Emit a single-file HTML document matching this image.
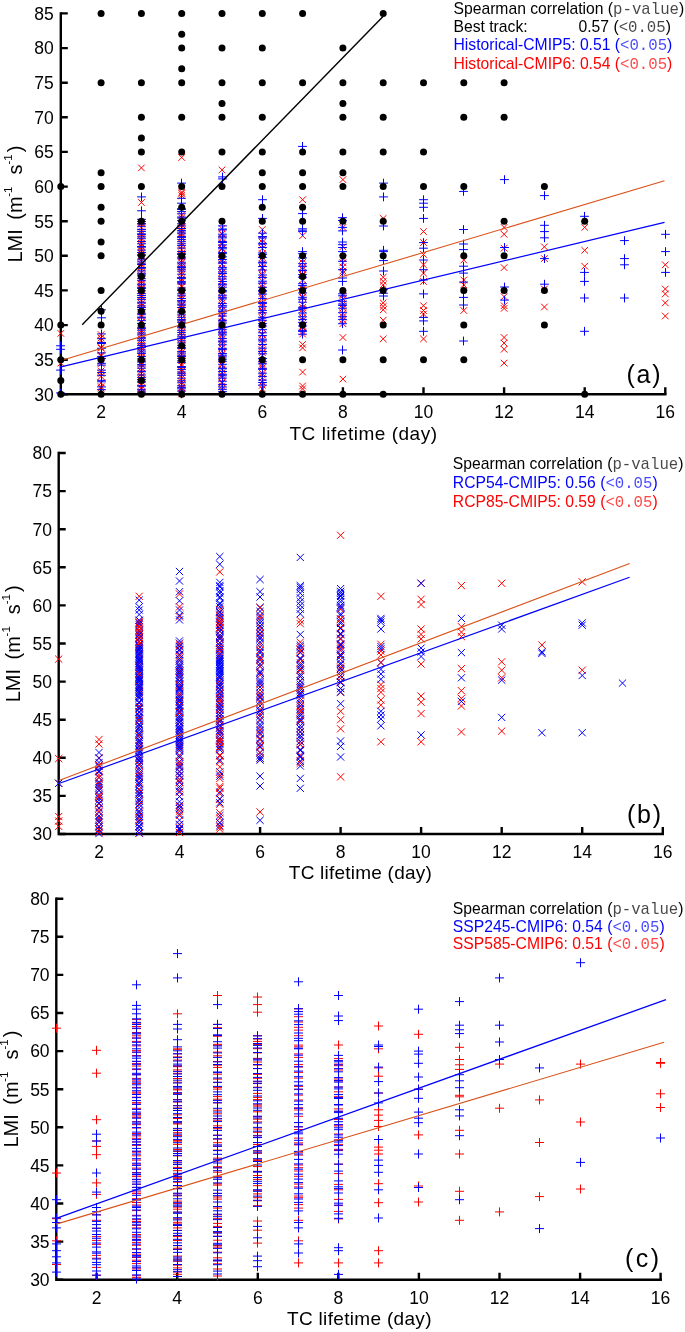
<!DOCTYPE html>
<html><head><meta charset="utf-8"><style>
html,body{margin:0;padding:0;background:#fff;}
svg{display:block;will-change:transform;}
text{font-family:"Liberation Sans",sans-serif;}
</style></head><body>
<svg width="685" height="1332" viewBox="0 0 685 1332">
<rect width="685" height="1332" fill="#fff"/>
<path d="M60.8 12.2V394.3H666.5" stroke="#000" stroke-width="2.4" fill="none" stroke-linejoin="miter"/><path d="M60.8 394.3h7M60.8 359.7h7M60.8 325.1h7M60.8 290.4h7M60.8 255.8h7M60.8 221.2h7M60.8 186.6h7M60.8 151.9h7M60.8 117.3h7M60.8 82.7h7M60.8 48.1h7M60.8 13.4h7M101.1 394.3v-7M181.7 394.3v-7M262.3 394.3v-7M342.9 394.3v-7M423.5 394.3v-7M504.1 394.3v-7M584.7 394.3v-7M665.3 394.3v-7" stroke="#000" stroke-width="2.4" fill="none"/><text x="53.8" y="400.6" text-anchor="end" font-size="17.5">30</text><text x="53.8" y="366.0" text-anchor="end" font-size="17.5">35</text><text x="53.8" y="331.4" text-anchor="end" font-size="17.5">40</text><text x="53.8" y="296.7" text-anchor="end" font-size="17.5">45</text><text x="53.8" y="262.1" text-anchor="end" font-size="17.5">50</text><text x="53.8" y="227.5" text-anchor="end" font-size="17.5">55</text><text x="53.8" y="192.9" text-anchor="end" font-size="17.5">60</text><text x="53.8" y="158.2" text-anchor="end" font-size="17.5">65</text><text x="53.8" y="123.6" text-anchor="end" font-size="17.5">70</text><text x="53.8" y="89.0" text-anchor="end" font-size="17.5">75</text><text x="53.8" y="54.4" text-anchor="end" font-size="17.5">80</text><text x="53.8" y="19.7" text-anchor="end" font-size="17.5">85</text><text x="101.1" y="418.3" text-anchor="middle" font-size="17.5">2</text><text x="181.7" y="418.3" text-anchor="middle" font-size="17.5">4</text><text x="262.3" y="418.3" text-anchor="middle" font-size="17.5">6</text><text x="342.9" y="418.3" text-anchor="middle" font-size="17.5">8</text><text x="423.5" y="418.3" text-anchor="middle" font-size="17.5">10</text><text x="504.1" y="418.3" text-anchor="middle" font-size="17.5">12</text><text x="584.7" y="418.3" text-anchor="middle" font-size="17.5">14</text><text x="665.3" y="418.3" text-anchor="middle" font-size="17.5">16</text><text x="289.5" y="439.8" font-size="19" textLength="147.5" lengthAdjust="spacing">TC lifetime (day)</text><g transform="translate(22.4,262.6) rotate(-90)" font-size="20"><text x="0" y="0">LMI</text><text x="42.9" y="0">(m</text><text x="65.9" y="-10" font-size="11.5">-1</text><text x="88.0" y="0">s</text><text x="98.1" y="-10" font-size="11.5">-1</text><text x="110.3" y="0">)</text></g><text x="660.5" y="383.0" text-anchor="end" font-size="25" textLength="34" lengthAdjust="spacing">(a)</text><path d="M57.5 359.8L64.1 366.4M57.5 366.4L64.1 359.8M57.5 330.1L64.1 336.7M57.5 336.7L64.1 330.1M97.8 384.8L104.4 391.4M97.8 391.4L104.4 384.8M97.8 383.3L104.4 389.9M97.8 389.9L104.4 383.3M97.8 379.5L104.4 386.1M97.8 386.1L104.4 379.5M97.8 373.1L104.4 379.7M97.8 379.7L104.4 373.1M97.8 370.2L104.4 376.8M97.8 376.8L104.4 370.2M97.8 367.6L104.4 374.2M97.8 374.2L104.4 367.6M97.8 360.3L104.4 366.9M97.8 366.9L104.4 360.3M97.8 357.6L104.4 364.2M97.8 364.2L104.4 357.6M97.8 353.0L104.4 359.6M97.8 359.6L104.4 353.0M97.8 351.9L104.4 358.5M97.8 358.5L104.4 351.9M97.8 344.9L104.4 351.5M97.8 351.5L104.4 344.9M97.8 344.1L104.4 350.7M97.8 350.7L104.4 344.1M97.8 337.1L104.4 343.7M97.8 343.7L104.4 337.1M97.8 334.7L104.4 341.3M97.8 341.3L104.4 334.7M97.8 331.3L104.4 337.9M97.8 337.9L104.4 331.3M138.1 164.6L144.7 171.2M138.1 171.2L144.7 164.6M138.1 199.2L144.7 205.8M138.1 205.8L144.7 199.2M138.1 389.4L144.7 396.0M138.1 396.0L144.7 389.4M138.1 385.4L144.7 392.0M138.1 392.0L144.7 385.4M138.1 384.5L144.7 391.1M138.1 391.1L144.7 384.5M138.1 382.0L144.7 388.6M138.1 388.6L144.7 382.0M138.1 377.9L144.7 384.5M138.1 384.5L144.7 377.9M138.1 375.9L144.7 382.5M138.1 382.5L144.7 375.9M138.1 373.4L144.7 380.0M138.1 380.0L144.7 373.4M138.1 370.3L144.7 376.9M138.1 376.9L144.7 370.3M138.1 367.8L144.7 374.4M138.1 374.4L144.7 367.8M138.1 364.4L144.7 371.0M138.1 371.0L144.7 364.4M138.1 361.2L144.7 367.8M138.1 367.8L144.7 361.2M138.1 358.4L144.7 365.0M138.1 365.0L144.7 358.4M138.1 354.2L144.7 360.8M138.1 360.8L144.7 354.2M138.1 352.7L144.7 359.3M138.1 359.3L144.7 352.7M138.1 349.2L144.7 355.8M138.1 355.8L144.7 349.2M138.1 347.2L144.7 353.8M138.1 353.8L144.7 347.2M138.1 343.8L144.7 350.4M138.1 350.4L144.7 343.8M138.1 341.9L144.7 348.5M138.1 348.5L144.7 341.9M138.1 338.3L144.7 344.9M138.1 344.9L144.7 338.3M138.1 336.1L144.7 342.7M138.1 342.7L144.7 336.1M138.1 331.2L144.7 337.8M138.1 337.8L144.7 331.2M138.1 328.8L144.7 335.4M138.1 335.4L144.7 328.8M138.1 327.0L144.7 333.6M138.1 333.6L144.7 327.0M138.1 323.3L144.7 329.9M138.1 329.9L144.7 323.3M138.1 319.1L144.7 325.7M138.1 325.7L144.7 319.1M138.1 318.6L144.7 325.2M138.1 325.2L144.7 318.6M138.1 313.6L144.7 320.2M138.1 320.2L144.7 313.6M138.1 311.8L144.7 318.4M138.1 318.4L144.7 311.8M138.1 308.8L144.7 315.4M138.1 315.4L144.7 308.8M138.1 304.9L144.7 311.5M138.1 311.5L144.7 304.9M138.1 303.3L144.7 309.9M138.1 309.9L144.7 303.3M138.1 300.1L144.7 306.7M138.1 306.7L144.7 300.1M138.1 296.7L144.7 303.3M138.1 303.3L144.7 296.7M138.1 292.9L144.7 299.5M138.1 299.5L144.7 292.9M138.1 291.9L144.7 298.5M138.1 298.5L144.7 291.9M138.1 287.6L144.7 294.2M138.1 294.2L144.7 287.6M138.1 285.1L144.7 291.7M138.1 291.7L144.7 285.1M138.1 282.4L144.7 289.0M138.1 289.0L144.7 282.4M138.1 280.2L144.7 286.8M138.1 286.8L144.7 280.2M138.1 277.5L144.7 284.1M138.1 284.1L144.7 277.5M138.1 275.4L144.7 282.0M138.1 282.0L144.7 275.4M138.1 272.3L144.7 278.9M138.1 278.9L144.7 272.3M138.1 269.6L144.7 276.2M138.1 276.2L144.7 269.6M138.1 264.8L144.7 271.4M138.1 271.4L144.7 264.8M138.1 263.3L144.7 269.9M138.1 269.9L144.7 263.3M138.1 260.7L144.7 267.3M138.1 267.3L144.7 260.7M138.1 258.0L144.7 264.6M138.1 264.6L144.7 258.0M138.1 253.0L144.7 259.6M138.1 259.6L144.7 253.0M138.1 250.0L144.7 256.6M138.1 256.6L144.7 250.0M138.1 247.7L144.7 254.3M138.1 254.3L144.7 247.7M138.1 245.9L144.7 252.5M138.1 252.5L144.7 245.9M138.1 243.1L144.7 249.7M138.1 249.7L144.7 243.1M138.1 240.1L144.7 246.7M138.1 246.7L144.7 240.1M138.1 236.7L144.7 243.3M138.1 243.3L144.7 236.7M138.1 234.7L144.7 241.3M138.1 241.3L144.7 234.7M138.1 231.0L144.7 237.6M138.1 237.6L144.7 231.0M138.1 228.7L144.7 235.3M138.1 235.3L144.7 228.7M138.1 223.8L144.7 230.4M138.1 230.4L144.7 223.8M138.1 220.8L144.7 227.4M138.1 227.4L144.7 220.8M138.1 219.2L144.7 225.8M138.1 225.8L144.7 219.2M178.4 154.2L185.0 160.8M178.4 160.8L185.0 154.2M178.4 188.8L185.0 195.4M178.4 195.4L185.0 188.8M178.4 190.2L185.0 196.8M178.4 196.8L185.0 190.2M178.4 192.3L185.0 198.9M178.4 198.9L185.0 192.3M178.4 390.3L185.0 396.9M178.4 396.9L185.0 390.3M178.4 385.1L185.0 391.7M178.4 391.7L185.0 385.1M178.4 384.1L185.0 390.7M178.4 390.7L185.0 384.1M178.4 380.9L185.0 387.5M178.4 387.5L185.0 380.9M178.4 379.0L185.0 385.6M178.4 385.6L185.0 379.0M178.4 374.9L185.0 381.5M178.4 381.5L185.0 374.9M178.4 371.6L185.0 378.2M178.4 378.2L185.0 371.6M178.4 368.5L185.0 375.1M178.4 375.1L185.0 368.5M178.4 366.4L185.0 373.0M178.4 373.0L185.0 366.4M178.4 362.5L185.0 369.1M178.4 369.1L185.0 362.5M178.4 361.0L185.0 367.6M178.4 367.6L185.0 361.0M178.4 357.2L185.0 363.8M178.4 363.8L185.0 357.2M178.4 354.7L185.0 361.3M178.4 361.3L185.0 354.7M178.4 350.8L185.0 357.4M178.4 357.4L185.0 350.8M178.4 348.9L185.0 355.5M178.4 355.5L185.0 348.9M178.4 345.9L185.0 352.5M178.4 352.5L185.0 345.9M178.4 342.1L185.0 348.7M178.4 348.7L185.0 342.1M178.4 339.3L185.0 345.9M178.4 345.9L185.0 339.3M178.4 335.2L185.0 341.8M178.4 341.8L185.0 335.2M178.4 332.4L185.0 339.0M178.4 339.0L185.0 332.4M178.4 328.7L185.0 335.3M178.4 335.3L185.0 328.7M178.4 326.0L185.0 332.6M178.4 332.6L185.0 326.0M178.4 322.8L185.0 329.4M178.4 329.4L185.0 322.8M178.4 319.3L185.0 325.9M178.4 325.9L185.0 319.3M178.4 317.8L185.0 324.4M178.4 324.4L185.0 317.8M178.4 315.0L185.0 321.6M178.4 321.6L185.0 315.0M178.4 310.0L185.0 316.6M178.4 316.6L185.0 310.0M178.4 309.5L185.0 316.1M178.4 316.1L185.0 309.5M178.4 304.8L185.0 311.4M178.4 311.4L185.0 304.8M178.4 302.0L185.0 308.6M178.4 308.6L185.0 302.0M178.4 300.8L185.0 307.4M178.4 307.4L185.0 300.8M178.4 295.5L185.0 302.1M178.4 302.1L185.0 295.5M178.4 292.3L185.0 298.9M178.4 298.9L185.0 292.3M178.4 290.1L185.0 296.7M178.4 296.7L185.0 290.1M178.4 286.8L185.0 293.4M178.4 293.4L185.0 286.8M178.4 283.5L185.0 290.1M178.4 290.1L185.0 283.5M178.4 282.6L185.0 289.2M178.4 289.2L185.0 282.6M178.4 278.4L185.0 285.0M178.4 285.0L185.0 278.4M178.4 275.5L185.0 282.1M178.4 282.1L185.0 275.5M178.4 271.5L185.0 278.1M178.4 278.1L185.0 271.5M178.4 268.6L185.0 275.2M178.4 275.2L185.0 268.6M178.4 265.5L185.0 272.1M178.4 272.1L185.0 265.5M178.4 263.2L185.0 269.8M178.4 269.8L185.0 263.2M178.4 259.3L185.0 265.9M178.4 265.9L185.0 259.3M178.4 256.9L185.0 263.5M178.4 263.5L185.0 256.9M178.4 253.9L185.0 260.5M178.4 260.5L185.0 253.9M178.4 252.3L185.0 258.9M178.4 258.9L185.0 252.3M178.4 249.9L185.0 256.5M178.4 256.5L185.0 249.9M178.4 246.6L185.0 253.2M178.4 253.2L185.0 246.6M178.4 242.9L185.0 249.5M178.4 249.5L185.0 242.9M178.4 240.6L185.0 247.2M178.4 247.2L185.0 240.6M178.4 235.4L185.0 242.0M178.4 242.0L185.0 235.4M178.4 233.3L185.0 239.9M178.4 239.9L185.0 233.3M178.4 230.1L185.0 236.7M178.4 236.7L185.0 230.1M178.4 227.1L185.0 233.7M178.4 233.7L185.0 227.1M178.4 223.9L185.0 230.5M178.4 230.5L185.0 223.9M178.4 221.5L185.0 228.1M178.4 228.1L185.0 221.5M178.4 219.9L185.0 226.5M178.4 226.5L185.0 219.9M178.4 214.6L185.0 221.2M178.4 221.2L185.0 214.6M178.4 211.7L185.0 218.3M178.4 218.3L185.0 211.7M218.7 166.6L225.3 173.2M218.7 173.2L225.3 166.6M218.7 386.0L225.3 392.6M218.7 392.6L225.3 386.0M218.7 383.0L225.3 389.6M218.7 389.6L225.3 383.0M218.7 379.7L225.3 386.3M218.7 386.3L225.3 379.7M218.7 378.5L225.3 385.1M218.7 385.1L225.3 378.5M218.7 373.5L225.3 380.1M218.7 380.1L225.3 373.5M218.7 372.0L225.3 378.6M218.7 378.6L225.3 372.0M218.7 369.6L225.3 376.2M218.7 376.2L225.3 369.6M218.7 366.0L225.3 372.6M218.7 372.6L225.3 366.0M218.7 361.7L225.3 368.3M218.7 368.3L225.3 361.7M218.7 360.3L225.3 366.9M218.7 366.9L225.3 360.3M218.7 355.8L225.3 362.4M218.7 362.4L225.3 355.8M218.7 352.1L225.3 358.7M218.7 358.7L225.3 352.1M218.7 350.6L225.3 357.2M218.7 357.2L225.3 350.6M218.7 347.9L225.3 354.5M218.7 354.5L225.3 347.9M218.7 344.7L225.3 351.3M218.7 351.3L225.3 344.7M218.7 341.1L225.3 347.7M218.7 347.7L225.3 341.1M218.7 337.9L225.3 344.5M218.7 344.5L225.3 337.9M218.7 335.4L225.3 342.0M218.7 342.0L225.3 335.4M218.7 332.4L225.3 339.0M218.7 339.0L225.3 332.4M218.7 331.1L225.3 337.7M218.7 337.7L225.3 331.1M218.7 327.9L225.3 334.5M218.7 334.5L225.3 327.9M218.7 324.6L225.3 331.2M218.7 331.2L225.3 324.6M218.7 320.2L225.3 326.8M218.7 326.8L225.3 320.2M218.7 318.6L225.3 325.2M218.7 325.2L225.3 318.6M218.7 314.8L225.3 321.4M218.7 321.4L225.3 314.8M218.7 313.5L225.3 320.1M218.7 320.1L225.3 313.5M218.7 310.4L225.3 317.0M218.7 317.0L225.3 310.4M218.7 306.9L225.3 313.5M218.7 313.5L225.3 306.9M218.7 302.7L225.3 309.3M218.7 309.3L225.3 302.7M218.7 299.7L225.3 306.3M218.7 306.3L225.3 299.7M218.7 296.8L225.3 303.4M218.7 303.4L225.3 296.8M218.7 295.0L225.3 301.6M218.7 301.6L225.3 295.0M218.7 291.3L225.3 297.9M218.7 297.9L225.3 291.3M218.7 288.5L225.3 295.1M218.7 295.1L225.3 288.5M218.7 285.6L225.3 292.2M218.7 292.2L225.3 285.6M218.7 283.6L225.3 290.2M218.7 290.2L225.3 283.6M218.7 278.4L225.3 285.0M218.7 285.0L225.3 278.4M218.7 277.5L225.3 284.1M218.7 284.1L225.3 277.5M218.7 272.2L225.3 278.8M218.7 278.8L225.3 272.2M218.7 269.4L225.3 276.0M218.7 276.0L225.3 269.4M218.7 269.1L225.3 275.7M218.7 275.7L225.3 269.1M218.7 264.9L225.3 271.5M218.7 271.5L225.3 264.9M218.7 260.8L225.3 267.4M218.7 267.4L225.3 260.8M218.7 257.4L225.3 264.0M218.7 264.0L225.3 257.4M218.7 256.0L225.3 262.6M218.7 262.6L225.3 256.0M218.7 253.6L225.3 260.2M218.7 260.2L225.3 253.6M218.7 250.8L225.3 257.4M218.7 257.4L225.3 250.8M218.7 245.7L225.3 252.3M218.7 252.3L225.3 245.7M218.7 244.9L225.3 251.5M218.7 251.5L225.3 244.9M218.7 240.8L225.3 247.4M218.7 247.4L225.3 240.8M218.7 239.2L225.3 245.8M218.7 245.8L225.3 239.2M218.7 235.1L225.3 241.7M218.7 241.7L225.3 235.1M218.7 230.9L225.3 237.5M218.7 237.5L225.3 230.9M218.7 230.3L225.3 236.9M218.7 236.9L225.3 230.3M218.7 225.3L225.3 231.9M218.7 231.9L225.3 225.3M259.0 226.2L265.6 232.8M259.0 232.8L265.6 226.2M259.0 382.0L265.6 388.6M259.0 388.6L265.6 382.0M259.0 385.5L265.6 392.1M259.0 392.1L265.6 385.5M259.0 378.9L265.6 385.5M259.0 385.5L265.6 378.9M259.0 374.4L265.6 381.0M259.0 381.0L265.6 374.4M259.0 371.7L265.6 378.3M259.0 378.3L265.6 371.7M259.0 369.9L265.6 376.5M259.0 376.5L265.6 369.9M259.0 364.4L265.6 371.0M259.0 371.0L265.6 364.4M259.0 362.5L265.6 369.1M259.0 369.1L265.6 362.5M259.0 360.7L265.6 367.3M259.0 367.3L265.6 360.7M259.0 357.4L265.6 364.0M259.0 364.0L265.6 357.4M259.0 352.5L265.6 359.1M259.0 359.1L265.6 352.5M259.0 349.3L265.6 355.9M259.0 355.9L265.6 349.3M259.0 346.5L265.6 353.1M259.0 353.1L265.6 346.5M259.0 343.8L265.6 350.4M259.0 350.4L265.6 343.8M259.0 339.8L265.6 346.4M259.0 346.4L265.6 339.8M259.0 336.6L265.6 343.2M259.0 343.2L265.6 336.6M259.0 331.5L265.6 338.1M259.0 338.1L265.6 331.5M259.0 331.0L265.6 337.6M259.0 337.6L265.6 331.0M259.0 325.2L265.6 331.8M259.0 331.8L265.6 325.2M259.0 321.6L265.6 328.2M259.0 328.2L265.6 321.6M259.0 320.7L265.6 327.3M259.0 327.3L265.6 320.7M259.0 314.7L265.6 321.3M259.0 321.3L265.6 314.7M259.0 312.1L265.6 318.7M259.0 318.7L265.6 312.1M259.0 308.1L265.6 314.7M259.0 314.7L265.6 308.1M259.0 306.9L265.6 313.5M259.0 313.5L265.6 306.9M259.0 303.3L265.6 309.9M259.0 309.9L265.6 303.3M259.0 299.9L265.6 306.5M259.0 306.5L265.6 299.9M259.0 294.6L265.6 301.2M259.0 301.2L265.6 294.6M259.0 292.6L265.6 299.2M259.0 299.2L265.6 292.6M259.0 290.1L265.6 296.7M259.0 296.7L265.6 290.1M259.0 286.6L265.6 293.2M259.0 293.2L265.6 286.6M259.0 283.8L265.6 290.4M259.0 290.4L265.6 283.8M259.0 281.2L265.6 287.8M259.0 287.8L265.6 281.2M259.0 277.7L265.6 284.3M259.0 284.3L265.6 277.7M259.0 272.0L265.6 278.6M259.0 278.6L265.6 272.0M259.0 270.5L265.6 277.1M259.0 277.1L265.6 270.5M259.0 265.0L265.6 271.6M259.0 271.6L265.6 265.0M259.0 264.0L265.6 270.6M259.0 270.6L265.6 264.0M259.0 260.6L265.6 267.2M259.0 267.2L265.6 260.6M259.0 256.5L265.6 263.1M259.0 263.1L265.6 256.5M259.0 254.3L265.6 260.9M259.0 260.9L265.6 254.3M259.0 250.3L265.6 256.9M259.0 256.9L265.6 250.3M259.0 245.1L265.6 251.7M259.0 251.7L265.6 245.1M259.0 242.0L265.6 248.6M259.0 248.6L265.6 242.0M259.0 239.0L265.6 245.6M259.0 245.6L265.6 239.0M259.0 236.3L265.6 242.9M259.0 242.9L265.6 236.3M259.0 232.0L265.6 238.6M259.0 238.6L265.6 232.0M299.3 196.4L305.9 203.0M299.3 203.0L305.9 196.4M299.3 232.4L305.9 239.0M299.3 239.0L305.9 232.4M299.3 330.8L305.9 337.4M299.3 337.4L305.9 330.8M299.3 328.6L305.9 335.2M299.3 335.2L305.9 328.6M299.3 324.3L305.9 330.9M299.3 330.9L305.9 324.3M299.3 323.1L305.9 329.7M299.3 329.7L305.9 323.1M299.3 316.9L305.9 323.5M299.3 323.5L305.9 316.9M299.3 314.3L305.9 320.9M299.3 320.9L305.9 314.3M299.3 309.6L305.9 316.2M299.3 316.2L305.9 309.6M299.3 306.3L305.9 312.9M299.3 312.9L305.9 306.3M299.3 304.0L305.9 310.6M299.3 310.6L305.9 304.0M299.3 301.2L305.9 307.8M299.3 307.8L305.9 301.2M299.3 294.3L305.9 300.9M299.3 300.9L305.9 294.3M299.3 293.6L305.9 300.2M299.3 300.2L305.9 293.6M299.3 288.7L305.9 295.3M299.3 295.3L305.9 288.7M299.3 285.5L305.9 292.1M299.3 292.1L305.9 285.5M299.3 282.0L305.9 288.6M299.3 288.6L305.9 282.0M299.3 276.7L305.9 283.3M299.3 283.3L305.9 276.7M299.3 272.2L305.9 278.8M299.3 278.8L305.9 272.2M299.3 271.2L305.9 277.8M299.3 277.8L305.9 271.2M299.3 266.1L305.9 272.7M299.3 272.7L305.9 266.1M299.3 263.7L305.9 270.3M299.3 270.3L305.9 263.7M299.3 259.2L305.9 265.8M299.3 265.8L305.9 259.2M299.3 256.1L305.9 262.7M299.3 262.7L305.9 256.1M299.3 341.1L305.9 347.7M299.3 347.7L305.9 341.1M299.3 344.6L305.9 351.2M299.3 351.2L305.9 344.6M299.3 368.8L305.9 375.4M299.3 375.4L305.9 368.8M299.3 382.7L305.9 389.3M299.3 389.3L305.9 382.7M299.3 385.5L305.9 392.1M299.3 392.1L305.9 385.5M339.6 176.3L346.2 182.9M339.6 182.9L346.2 176.3M339.6 224.1L346.2 230.7M339.6 230.7L346.2 224.1M339.6 243.5L346.2 250.1M339.6 250.1L346.2 243.5M339.6 255.3L346.2 261.9M339.6 261.9L346.2 255.3M339.6 259.4L346.2 266.0M339.6 266.0L346.2 259.4M339.6 263.6L346.2 270.2M339.6 270.2L346.2 263.6M339.6 267.7L346.2 274.3M339.6 274.3L346.2 267.7M339.6 269.8L346.2 276.4M339.6 276.4L346.2 269.8M339.6 316.4L346.2 323.0M339.6 323.0L346.2 316.4M339.6 313.3L346.2 319.9M339.6 319.9L346.2 313.3M339.6 310.1L346.2 316.7M339.6 316.7L346.2 310.1M339.6 304.9L346.2 311.5M339.6 311.5L346.2 304.9M339.6 303.1L346.2 309.7M339.6 309.7L346.2 303.1M339.6 300.8L346.2 307.4M339.6 307.4L346.2 300.8M339.6 295.6L346.2 302.2M339.6 302.2L346.2 295.6M339.6 292.3L346.2 298.9M339.6 298.9L346.2 292.3M339.6 290.9L346.2 297.5M339.6 297.5L346.2 290.9M339.6 320.4L346.2 327.0M339.6 327.0L346.2 320.4M339.6 334.2L346.2 340.8M339.6 340.8L346.2 334.2M339.6 375.8L346.2 382.4M339.6 382.4L346.2 375.8M379.9 215.1L386.5 221.7M379.9 221.7L386.5 215.1M379.9 274.0L386.5 280.6M379.9 280.6L386.5 274.0M379.9 278.1L386.5 284.7M379.9 284.7L386.5 278.1M379.9 281.6L386.5 288.2M379.9 288.2L386.5 281.6M379.9 299.6L386.5 306.2M379.9 306.2L386.5 299.6M379.9 303.1L386.5 309.7M379.9 309.7L386.5 303.1M379.9 306.5L386.5 313.1M379.9 313.1L386.5 306.5M379.9 316.9L386.5 323.5M379.9 323.5L386.5 316.9M379.9 335.6L386.5 342.2M379.9 342.2L386.5 335.6M420.2 228.3L426.8 234.9M420.2 234.9L426.8 228.3M420.2 239.3L426.8 245.9M420.2 245.9L426.8 239.3M420.2 251.1L426.8 257.7M420.2 257.7L426.8 251.1M420.2 261.5L426.8 268.1M420.2 268.1L426.8 261.5M420.2 269.8L426.8 276.4M420.2 276.4L426.8 269.8M420.2 278.1L426.8 284.7M420.2 284.7L426.8 278.1M420.2 302.4L426.8 309.0M420.2 309.0L426.8 302.4M420.2 307.2L426.8 313.8M420.2 313.8L426.8 307.2M420.2 310.7L426.8 317.3M420.2 317.3L426.8 310.7M420.2 335.6L426.8 342.2M420.2 342.2L426.8 335.6M460.5 256.7L467.1 263.3M460.5 263.3L467.1 256.7M460.5 276.7L467.1 283.3M460.5 283.3L467.1 276.7M460.5 281.6L467.1 288.2M460.5 288.2L467.1 281.6M460.5 307.2L467.1 313.8M460.5 313.8L467.1 307.2M500.8 224.1L507.4 230.7M500.8 230.7L507.4 224.1M500.8 231.0L507.4 237.6M500.8 237.6L507.4 231.0M500.8 244.9L507.4 251.5M500.8 251.5L507.4 244.9M500.8 264.3L507.4 270.9M500.8 270.9L507.4 264.3M500.8 293.4L507.4 300.0M500.8 300.0L507.4 293.4M500.8 302.4L507.4 309.0M500.8 309.0L507.4 302.4M500.8 305.1L507.4 311.7M500.8 311.7L507.4 305.1M500.8 334.2L507.4 340.8M500.8 340.8L507.4 334.2M500.8 339.8L507.4 346.4M500.8 346.4L507.4 339.8M500.8 346.0L507.4 352.6M500.8 352.6L507.4 346.0M500.8 359.8L507.4 366.4M500.8 366.4L507.4 359.8M541.1 243.5L547.7 250.1M541.1 250.1L547.7 243.5M541.1 255.3L547.7 261.9M541.1 261.9L547.7 255.3M541.1 285.7L547.7 292.3M541.1 292.3L547.7 285.7M541.1 303.7L547.7 310.3M541.1 310.3L547.7 303.7M581.4 224.1L588.0 230.7M581.4 230.7L588.0 224.1M581.4 247.0L588.0 253.6M581.4 253.6L588.0 247.0M581.4 262.9L588.0 269.5M581.4 269.5L588.0 262.9M662.0 261.5L668.6 268.1M662.0 268.1L668.6 261.5M662.0 285.7L668.6 292.3M662.0 292.3L668.6 285.7M662.0 290.6L668.6 297.2M662.0 297.2L668.6 290.6M662.0 299.6L668.6 306.2M662.0 306.2L668.6 299.6M662.0 312.7L668.6 319.3M662.0 319.3L668.6 312.7" stroke="#ff0000" stroke-width="1" fill="none"/><path d="M56.1 392.9H64.9M60.5 388.5V397.3M56.1 370.1H64.9M60.5 365.7V374.5M56.1 349.3H64.9M60.5 344.9V353.7M56.1 345.8H64.9M60.5 341.4V350.2M97.1 309.8H105.9M101.5 305.4V314.2M97.1 317.8H105.9M101.5 313.4V322.2M97.1 389.7H105.9M101.5 385.3V394.1M97.1 386.9H105.9M101.5 382.5V391.3M97.1 381.8H105.9M101.5 377.4V386.2M97.1 380.3H105.9M101.5 375.9V384.7M97.1 375.3H105.9M101.5 370.9V379.7M97.1 372.5H105.9M101.5 368.1V376.9M97.1 370.1H105.9M101.5 365.7V374.5M97.1 365.1H105.9M101.5 360.7V369.5M97.1 363.3H105.9M101.5 358.9V367.7M97.1 358.6H105.9M101.5 354.2V363.0M97.1 356.4H105.9M101.5 352.0V360.8M97.1 352.9H105.9M101.5 348.5V357.3M97.1 348.3H105.9M101.5 343.9V352.7M97.1 343.5H105.9M101.5 339.1V347.9M97.1 342.5H105.9M101.5 338.1V346.9M97.1 338.7H105.9M101.5 334.3V343.1M97.1 333.9H105.9M101.5 329.5V338.3M137.1 196.9H145.9M141.5 192.5V201.3M137.1 210.8H145.9M141.5 206.4V215.2M137.1 392.3H145.9M141.5 387.9V396.7M137.1 391.0H145.9M141.5 386.6V395.4M137.1 389.3H145.9M141.5 384.9V393.7M137.1 386.0H145.9M141.5 381.6V390.4M137.1 385.9H145.9M141.5 381.5V390.3M137.1 382.1H145.9M141.5 377.7V386.5M137.1 381.2H145.9M141.5 376.8V385.6M137.1 379.5H145.9M141.5 375.1V383.9M137.1 377.4H145.9M141.5 373.0V381.8M137.1 375.0H145.9M141.5 370.6V379.4M137.1 371.8H145.9M141.5 367.4V376.2M137.1 371.1H145.9M141.5 366.7V375.5M137.1 368.2H145.9M141.5 363.8V372.6M137.1 366.0H145.9M141.5 361.6V370.4M137.1 364.4H145.9M141.5 360.0V368.8M137.1 362.0H145.9M141.5 357.6V366.4M137.1 360.9H145.9M141.5 356.5V365.3M137.1 358.9H145.9M141.5 354.5V363.3M137.1 356.5H145.9M141.5 352.1V360.9M137.1 353.4H145.9M141.5 349.0V357.8M137.1 351.9H145.9M141.5 347.5V356.3M137.1 350.0H145.9M141.5 345.6V354.4M137.1 347.4H145.9M141.5 343.0V351.8M137.1 345.6H145.9M141.5 341.2V350.0M137.1 343.8H145.9M141.5 339.4V348.2M137.1 340.7H145.9M141.5 336.3V345.1M137.1 338.8H145.9M141.5 334.4V343.2M137.1 337.7H145.9M141.5 333.3V342.1M137.1 334.9H145.9M141.5 330.5V339.3M137.1 333.0H145.9M141.5 328.6V337.4M137.1 330.2H145.9M141.5 325.8V334.6M137.1 328.4H145.9M141.5 324.0V332.8M137.1 327.2H145.9M141.5 322.8V331.6M137.1 323.7H145.9M141.5 319.3V328.1M137.1 323.4H145.9M141.5 319.0V327.8M137.1 320.7H145.9M141.5 316.3V325.1M137.1 317.9H145.9M141.5 313.5V322.3M137.1 317.1H145.9M141.5 312.7V321.5M137.1 314.3H145.9M141.5 309.9V318.7M137.1 313.2H145.9M141.5 308.8V317.6M137.1 309.8H145.9M141.5 305.4V314.2M137.1 307.5H145.9M141.5 303.1V311.9M137.1 305.9H145.9M141.5 301.5V310.3M137.1 303.1H145.9M141.5 298.7V307.5M137.1 302.2H145.9M141.5 297.8V306.6M137.1 299.4H145.9M141.5 295.0V303.8M137.1 297.5H145.9M141.5 293.1V301.9M137.1 295.5H145.9M141.5 291.1V299.9M137.1 293.6H145.9M141.5 289.2V298.0M137.1 290.8H145.9M141.5 286.4V295.2M137.1 288.5H145.9M141.5 284.1V292.9M137.1 287.4H145.9M141.5 283.0V291.8M137.1 284.9H145.9M141.5 280.5V289.3M137.1 284.1H145.9M141.5 279.7V288.5M137.1 280.7H145.9M141.5 276.3V285.1M137.1 278.7H145.9M141.5 274.3V283.1M137.1 275.9H145.9M141.5 271.5V280.3M137.1 274.2H145.9M141.5 269.8V278.6M137.1 273.2H145.9M141.5 268.8V277.6M137.1 270.9H145.9M141.5 266.5V275.3M137.1 268.3H145.9M141.5 263.9V272.7M137.1 267.5H145.9M141.5 263.1V271.9M137.1 264.5H145.9M141.5 260.1V268.9M137.1 263.1H145.9M141.5 258.7V267.5M137.1 261.1H145.9M141.5 256.7V265.5M137.1 259.1H145.9M141.5 254.7V263.5M137.1 255.6H145.9M141.5 251.2V260.0M137.1 254.8H145.9M141.5 250.4V259.2M137.1 252.5H145.9M141.5 248.1V256.9M137.1 250.1H145.9M141.5 245.7V254.5M137.1 247.1H145.9M141.5 242.7V251.5M137.1 246.6H145.9M141.5 242.2V251.0M137.1 243.8H145.9M141.5 239.4V248.2M137.1 241.5H145.9M141.5 237.1V245.9M137.1 238.7H145.9M141.5 234.3V243.1M137.1 236.8H145.9M141.5 232.4V241.2M137.1 234.6H145.9M141.5 230.2V239.0M137.1 233.8H145.9M141.5 229.4V238.2M137.1 231.4H145.9M141.5 227.0V235.8M137.1 229.4H145.9M141.5 225.0V233.8M137.1 226.3H145.9M141.5 221.9V230.7M137.1 224.0H145.9M141.5 219.6V228.4M137.1 223.6H145.9M141.5 219.2V228.0M137.1 221.5H145.9M141.5 217.1V225.9M137.1 219.3H145.9M141.5 214.9V223.7M177.1 183.1H185.9M181.5 178.7V187.5M177.1 198.3H185.9M181.5 193.9V202.7M177.1 203.2H185.9M181.5 198.8V207.6M177.1 393.8H185.9M181.5 389.4V398.2M177.1 391.1H185.9M181.5 386.7V395.5M177.1 388.8H185.9M181.5 384.4V393.2M177.1 387.4H185.9M181.5 383.0V391.8M177.1 385.8H185.9M181.5 381.4V390.2M177.1 382.8H185.9M181.5 378.4V387.2M177.1 380.8H185.9M181.5 376.4V385.2M177.1 378.2H185.9M181.5 373.8V382.6M177.1 375.3H185.9M181.5 370.9V379.7M177.1 373.7H185.9M181.5 369.3V378.1M177.1 372.0H185.9M181.5 367.6V376.4M177.1 369.6H185.9M181.5 365.2V374.0M177.1 367.4H185.9M181.5 363.0V371.8M177.1 366.6H185.9M181.5 362.2V371.0M177.1 362.6H185.9M181.5 358.2V367.0M177.1 360.8H185.9M181.5 356.4V365.2M177.1 358.4H185.9M181.5 354.0V362.8M177.1 356.5H185.9M181.5 352.1V360.9M177.1 355.2H185.9M181.5 350.8V359.6M177.1 353.1H185.9M181.5 348.7V357.5M177.1 351.6H185.9M181.5 347.2V356.0M177.1 348.3H185.9M181.5 343.9V352.7M177.1 347.4H185.9M181.5 343.0V351.8M177.1 345.3H185.9M181.5 340.9V349.7M177.1 342.9H185.9M181.5 338.5V347.3M177.1 340.8H185.9M181.5 336.4V345.2M177.1 338.3H185.9M181.5 333.9V342.7M177.1 336.8H185.9M181.5 332.4V341.2M177.1 334.8H185.9M181.5 330.4V339.2M177.1 332.4H185.9M181.5 328.0V336.8M177.1 330.3H185.9M181.5 325.9V334.7M177.1 327.7H185.9M181.5 323.3V332.1M177.1 326.3H185.9M181.5 321.9V330.7M177.1 322.3H185.9M181.5 317.9V326.7M177.1 320.8H185.9M181.5 316.4V325.2M177.1 319.6H185.9M181.5 315.2V324.0M177.1 317.3H185.9M181.5 312.9V321.7M177.1 314.9H185.9M181.5 310.5V319.3M177.1 312.8H185.9M181.5 308.4V317.2M177.1 311.2H185.9M181.5 306.8V315.6M177.1 307.5H185.9M181.5 303.1V311.9M177.1 305.1H185.9M181.5 300.7V309.5M177.1 304.1H185.9M181.5 299.7V308.5M177.1 301.9H185.9M181.5 297.5V306.3M177.1 300.6H185.9M181.5 296.2V305.0M177.1 298.5H185.9M181.5 294.1V302.9M177.1 295.8H185.9M181.5 291.4V300.2M177.1 293.9H185.9M181.5 289.5V298.3M177.1 290.6H185.9M181.5 286.2V295.0M177.1 289.8H185.9M181.5 285.4V294.2M177.1 288.0H185.9M181.5 283.6V292.4M177.1 283.9H185.9M181.5 279.5V288.3M177.1 282.7H185.9M181.5 278.3V287.1M177.1 281.4H185.9M181.5 277.0V285.8M177.1 278.4H185.9M181.5 274.0V282.8M177.1 277.4H185.9M181.5 273.0V281.8M177.1 274.2H185.9M181.5 269.8V278.6M177.1 271.1H185.9M181.5 266.7V275.5M177.1 269.2H185.9M181.5 264.8V273.6M177.1 267.5H185.9M181.5 263.1V271.9M177.1 266.3H185.9M181.5 261.9V270.7M177.1 263.9H185.9M181.5 259.5V268.3M177.1 262.2H185.9M181.5 257.8V266.6M177.1 258.8H185.9M181.5 254.4V263.2M177.1 257.2H185.9M181.5 252.8V261.6M177.1 254.5H185.9M181.5 250.1V258.9M177.1 253.4H185.9M181.5 249.0V257.8M177.1 251.5H185.9M181.5 247.1V255.9M177.1 248.1H185.9M181.5 243.7V252.5M177.1 245.6H185.9M181.5 241.2V250.0M177.1 243.8H185.9M181.5 239.4V248.2M177.1 241.7H185.9M181.5 237.3V246.1M177.1 239.6H185.9M181.5 235.2V244.0M177.1 237.6H185.9M181.5 233.2V242.0M177.1 236.6H185.9M181.5 232.2V241.0M177.1 233.8H185.9M181.5 229.4V238.2M177.1 232.1H185.9M181.5 227.7V236.5M177.1 230.6H185.9M181.5 226.2V235.0M177.1 228.5H185.9M181.5 224.1V232.9M177.1 225.9H185.9M181.5 221.5V230.3M177.1 223.8H185.9M181.5 219.4V228.2M177.1 220.7H185.9M181.5 216.3V225.1M177.1 218.0H185.9M181.5 213.6V222.4M177.1 217.0H185.9M181.5 212.6V221.4M177.1 213.8H185.9M181.5 209.4V218.2M177.1 211.6H185.9M181.5 207.2V216.0M177.1 209.5H185.9M181.5 205.1V213.9M177.1 208.7H185.9M181.5 204.3V213.1M218.1 176.9H226.9M222.5 172.5V181.3M218.1 178.9H226.9M222.5 174.5V183.3M218.1 391.7H226.9M222.5 387.3V396.1M218.1 389.3H226.9M222.5 384.9V393.7M218.1 387.0H226.9M222.5 382.6V391.4M218.1 384.6H226.9M222.5 380.2V389.0M218.1 381.2H226.9M222.5 376.8V385.6M218.1 378.1H226.9M222.5 373.7V382.5M218.1 375.8H226.9M222.5 371.4V380.2M218.1 374.3H226.9M222.5 369.9V378.7M218.1 371.5H226.9M222.5 367.1V375.9M218.1 368.8H226.9M222.5 364.4V373.2M218.1 368.1H226.9M222.5 363.7V372.5M218.1 364.3H226.9M222.5 359.9V368.7M218.1 361.3H226.9M222.5 356.9V365.7M218.1 359.2H226.9M222.5 354.8V363.6M218.1 356.9H226.9M222.5 352.5V361.3M218.1 355.2H226.9M222.5 350.8V359.6M218.1 353.5H226.9M222.5 349.1V357.9M218.1 349.6H226.9M222.5 345.2V354.0M218.1 348.3H226.9M222.5 343.9V352.7M218.1 344.8H226.9M222.5 340.4V349.2M218.1 342.0H226.9M222.5 337.6V346.4M218.1 341.0H226.9M222.5 336.6V345.4M218.1 338.6H226.9M222.5 334.2V343.0M218.1 334.9H226.9M222.5 330.5V339.3M218.1 333.0H226.9M222.5 328.6V337.4M218.1 332.0H226.9M222.5 327.6V336.4M218.1 329.7H226.9M222.5 325.3V334.1M218.1 327.2H226.9M222.5 322.8V331.6M218.1 323.0H226.9M222.5 318.6V327.4M218.1 320.9H226.9M222.5 316.5V325.3M218.1 320.1H226.9M222.5 315.7V324.5M218.1 316.0H226.9M222.5 311.6V320.4M218.1 313.3H226.9M222.5 308.9V317.7M218.1 311.6H226.9M222.5 307.2V316.0M218.1 310.0H226.9M222.5 305.6V314.4M218.1 307.1H226.9M222.5 302.7V311.5M218.1 305.7H226.9M222.5 301.3V310.1M218.1 303.6H226.9M222.5 299.2V308.0M218.1 298.9H226.9M222.5 294.5V303.3M218.1 297.3H226.9M222.5 292.9V301.7M218.1 295.2H226.9M222.5 290.8V299.6M218.1 291.8H226.9M222.5 287.4V296.2M218.1 290.6H226.9M222.5 286.2V295.0M218.1 287.2H226.9M222.5 282.8V291.6M218.1 284.9H226.9M222.5 280.5V289.3M218.1 284.0H226.9M222.5 279.6V288.4M218.1 281.5H226.9M222.5 277.1V285.9M218.1 279.0H226.9M222.5 274.6V283.4M218.1 276.7H226.9M222.5 272.3V281.1M218.1 273.5H226.9M222.5 269.1V277.9M218.1 271.9H226.9M222.5 267.5V276.3M218.1 269.1H226.9M222.5 264.7V273.5M218.1 267.4H226.9M222.5 263.0V271.8M218.1 263.2H226.9M222.5 258.8V267.6M218.1 262.1H226.9M222.5 257.7V266.5M218.1 259.5H226.9M222.5 255.1V263.9M218.1 256.8H226.9M222.5 252.4V261.2M218.1 253.6H226.9M222.5 249.2V258.0M218.1 252.4H226.9M222.5 248.0V256.8M218.1 248.8H226.9M222.5 244.4V253.2M218.1 247.4H226.9M222.5 243.0V251.8M218.1 244.9H226.9M222.5 240.5V249.3M218.1 242.5H226.9M222.5 238.1V246.9M218.1 241.4H226.9M222.5 237.0V245.8M218.1 237.9H226.9M222.5 233.5V242.3M218.1 236.2H226.9M222.5 231.8V240.6M218.1 234.2H226.9M222.5 229.8V238.6M218.1 229.9H226.9M222.5 225.5V234.3M218.1 229.0H226.9M222.5 224.6V233.4M218.1 225.9H226.9M222.5 221.5V230.3M258.1 199.7H266.9M262.5 195.3V204.1M258.1 218.4H266.9M262.5 214.0V222.8M258.1 385.1H266.9M262.5 380.7V389.5M258.1 382.5H266.9M262.5 378.1V386.9M258.1 380.1H266.9M262.5 375.7V384.5M258.1 376.4H266.9M262.5 372.0V380.8M258.1 373.2H266.9M262.5 368.8V377.6M258.1 369.3H266.9M262.5 364.9V373.7M258.1 368.3H266.9M262.5 363.9V372.7M258.1 363.8H266.9M262.5 359.4V368.2M258.1 361.7H266.9M262.5 357.3V366.1M258.1 358.5H266.9M262.5 354.1V362.9M258.1 353.8H266.9M262.5 349.4V358.2M258.1 351.5H266.9M262.5 347.1V355.9M258.1 348.2H266.9M262.5 343.8V352.6M258.1 344.5H266.9M262.5 340.1V348.9M258.1 340.9H266.9M262.5 336.5V345.3M258.1 339.2H266.9M262.5 334.8V343.6M258.1 335.6H266.9M262.5 331.2V340.0M258.1 332.8H266.9M262.5 328.4V337.2M258.1 329.7H266.9M262.5 325.3V334.1M258.1 326.0H266.9M262.5 321.6V330.4M258.1 323.6H266.9M262.5 319.2V328.0M258.1 320.3H266.9M262.5 315.9V324.7M258.1 317.3H266.9M262.5 312.9V321.7M258.1 312.8H266.9M262.5 308.4V317.2M258.1 310.4H266.9M262.5 306.0V314.8M258.1 306.7H266.9M262.5 302.3V311.1M258.1 303.4H266.9M262.5 299.0V307.8M258.1 302.4H266.9M262.5 298.0V306.8M258.1 298.4H266.9M262.5 294.0V302.8M258.1 294.1H266.9M262.5 289.7V298.5M258.1 291.3H266.9M262.5 286.9V295.7M258.1 290.3H266.9M262.5 285.9V294.7M258.1 287.3H266.9M262.5 282.9V291.7M258.1 283.2H266.9M262.5 278.8V287.6M258.1 281.2H266.9M262.5 276.8V285.6M258.1 277.6H266.9M262.5 273.2V282.0M258.1 275.0H266.9M262.5 270.6V279.4M258.1 270.0H266.9M262.5 265.6V274.4M258.1 266.5H266.9M262.5 262.1V270.9M258.1 263.0H266.9M262.5 258.6V267.4M258.1 262.2H266.9M262.5 257.8V266.6M258.1 257.4H266.9M262.5 253.0V261.8M258.1 254.4H266.9M262.5 250.0V258.8M258.1 252.9H266.9M262.5 248.5V257.3M258.1 247.5H266.9M262.5 243.1V251.9M258.1 244.1H266.9M262.5 239.7V248.5M258.1 243.3H266.9M262.5 238.9V247.7M258.1 237.9H266.9M262.5 233.5V242.3M258.1 236.6H266.9M262.5 232.2V241.0M258.1 233.2H266.9M262.5 228.8V237.6M298.1 146.4H306.9M302.5 142.0V150.8M298.1 213.6H306.9M302.5 209.2V218.0M298.1 228.8H306.9M302.5 224.4V233.2M298.1 230.2H306.9M302.5 225.8V234.6M298.1 231.6H306.9M302.5 227.2V236.0M298.1 251.6H306.9M302.5 247.2V256.0M298.1 253.7H306.9M302.5 249.3V258.1M298.1 334.2H306.9M302.5 329.8V338.6M298.1 331.4H306.9M302.5 327.0V335.8M298.1 330.3H306.9M302.5 325.9V334.7M298.1 326.0H306.9M302.5 321.6V330.4M298.1 322.4H306.9M302.5 318.0V326.8M298.1 319.6H306.9M302.5 315.2V324.0M298.1 316.8H306.9M302.5 312.4V321.2M298.1 313.0H306.9M302.5 308.6V317.4M298.1 308.3H306.9M302.5 303.9V312.7M298.1 307.3H306.9M302.5 302.9V311.7M298.1 302.2H306.9M302.5 297.8V306.6M298.1 299.2H306.9M302.5 294.8V303.6M298.1 297.3H306.9M302.5 292.9V301.7M298.1 292.9H306.9M302.5 288.5V297.3M298.1 288.6H306.9M302.5 284.2V293.0M298.1 285.6H306.9M302.5 281.2V290.0M298.1 283.7H306.9M302.5 279.3V288.1M298.1 277.3H306.9M302.5 272.9V281.7M298.1 274.6H306.9M302.5 270.2V279.0M298.1 270.7H306.9M302.5 266.3V275.1M298.1 270.2H306.9M302.5 265.8V274.6M298.1 266.3H306.9M302.5 261.9V270.7M298.1 263.7H306.9M302.5 259.3V268.1M298.1 257.9H306.9M302.5 253.5V262.3M338.1 217.7H346.9M342.5 213.3V222.1M338.1 220.5H346.9M342.5 216.1V224.9M338.1 227.4H346.9M342.5 223.0V231.8M338.1 230.9H346.9M342.5 226.5V235.3M338.1 242.0H346.9M342.5 237.6V246.4M338.1 244.7H346.9M342.5 240.3V249.1M338.1 247.5H346.9M342.5 243.1V251.9M338.1 251.6H346.9M342.5 247.2V256.0M338.1 261.3H346.9M342.5 256.9V265.7M338.1 269.7H346.9M342.5 265.3V274.1M338.1 278.0H346.9M342.5 273.6V282.4M338.1 281.4H346.9M342.5 277.0V285.8M338.1 319.4H346.9M342.5 315.0V323.8M338.1 316.7H346.9M342.5 312.3V321.1M338.1 312.7H346.9M342.5 308.3V317.1M338.1 308.2H346.9M342.5 303.8V312.6M338.1 305.4H346.9M342.5 301.0V309.8M338.1 304.0H346.9M342.5 299.6V308.4M338.1 301.3H346.9M342.5 296.9V305.7M338.1 295.8H346.9M342.5 291.4V300.2M338.1 293.8H346.9M342.5 289.4V298.2M338.1 323.7H346.9M342.5 319.3V328.1M338.1 350.0H346.9M342.5 345.6V354.4M379.1 183.1H387.9M383.5 178.7V187.5M379.1 196.9H387.9M383.5 192.5V201.3M379.1 226.0H387.9M383.5 221.6V230.4M379.1 250.3H387.9M383.5 245.9V254.7M379.1 251.6H387.9M383.5 247.2V256.0M379.1 260.6H387.9M383.5 256.2V265.0M379.1 271.0H387.9M383.5 266.6V275.4M379.1 289.7H387.9M383.5 285.3V294.1M379.1 293.2H387.9M383.5 288.8V297.6M379.1 296.0H387.9M383.5 291.6V300.4M419.1 199.7H427.9M423.5 195.3V204.1M419.1 203.2H427.9M423.5 198.8V207.6M419.1 207.3H427.9M423.5 202.9V211.7M419.1 218.4H427.9M423.5 214.0V222.8M419.1 242.6H427.9M423.5 238.2V247.0M419.1 248.2H427.9M423.5 243.8V252.6M419.1 260.0H427.9M423.5 255.6V264.4M419.1 269.7H427.9M423.5 265.3V274.1M419.1 280.0H427.9M423.5 275.6V284.4M419.1 293.9H427.9M423.5 289.5V298.3M419.1 317.4H427.9M423.5 313.0V321.8M419.1 320.9H427.9M423.5 316.5V325.3M419.1 331.3H427.9M423.5 326.9V335.7M459.1 191.4H467.9M463.5 187.0V195.8M459.1 229.5H467.9M463.5 225.1V233.9M459.1 244.0H467.9M463.5 239.6V248.4M459.1 249.6H467.9M463.5 245.2V254.0M459.1 266.2H467.9M463.5 261.8V270.6M459.1 273.1H467.9M463.5 268.7V277.5M459.1 282.1H467.9M463.5 277.7V286.5M459.1 297.4H467.9M463.5 293.0V301.8M459.1 305.0H467.9M463.5 300.6V309.4M459.1 341.0H467.9M463.5 336.6V345.4M500.1 179.6H508.9M504.5 175.2V184.0M500.1 247.5H508.9M504.5 243.1V251.9M500.1 287.0H508.9M504.5 282.6V291.4M500.1 300.1H508.9M504.5 295.7V304.5M540.1 195.6H548.9M544.5 191.2V200.0M540.1 225.3H548.9M544.5 220.9V229.7M540.1 231.6H548.9M544.5 227.2V236.0M540.1 237.8H548.9M544.5 233.4V242.2M540.1 258.6H548.9M544.5 254.2V263.0M540.1 284.2H548.9M544.5 279.8V288.6M580.1 216.3H588.9M584.5 211.9V220.7M580.1 272.4H588.9M584.5 268.0V276.8M580.1 281.4H588.9M584.5 277.0V285.8M580.1 298.0H588.9M584.5 293.6V302.4M580.1 331.3H588.9M584.5 326.9V335.7M620.1 240.6H628.9M624.5 236.2V245.0M620.1 258.6H628.9M624.5 254.2V263.0M620.1 264.8H628.9M624.5 260.4V269.2M620.1 298.0H628.9M624.5 293.6V302.4M661.1 234.3H669.9M665.5 229.9V238.7M661.1 251.6H669.9M665.5 247.2V256.0M661.1 272.4H669.9M665.5 268.0V276.8" stroke="#0000ff" stroke-width="1" fill="none"/><line x1="61" y1="360.5" x2="664.5" y2="180.7" stroke="#d95319" stroke-width="1.1"/><line x1="61" y1="366.9" x2="664.5" y2="222.4" stroke="#0000ff" stroke-width="1.2"/><line x1="82.2" y1="324.7" x2="383" y2="16.5" stroke="#000" stroke-width="1.4"/><circle cx="60.8" cy="394.3" r="3.5"/><circle cx="60.8" cy="380.4" r="3.5"/><circle cx="60.8" cy="359.7" r="3.5"/><circle cx="60.8" cy="325.1" r="3.5"/><circle cx="60.8" cy="186.6" r="3.5"/><circle cx="101.1" cy="394.3" r="3.5"/><circle cx="101.1" cy="359.7" r="3.5"/><circle cx="101.1" cy="325.1" r="3.5"/><circle cx="101.1" cy="311.2" r="3.5"/><circle cx="101.1" cy="290.4" r="3.5"/><circle cx="101.1" cy="255.8" r="3.5"/><circle cx="101.1" cy="242.0" r="3.5"/><circle cx="101.1" cy="221.2" r="3.5"/><circle cx="101.1" cy="207.3" r="3.5"/><circle cx="101.1" cy="186.6" r="3.5"/><circle cx="101.1" cy="172.7" r="3.5"/><circle cx="101.1" cy="82.7" r="3.5"/><circle cx="101.1" cy="13.4" r="3.5"/><circle cx="141.4" cy="394.3" r="3.5"/><circle cx="141.4" cy="380.4" r="3.5"/><circle cx="141.4" cy="359.7" r="3.5"/><circle cx="141.4" cy="325.1" r="3.5"/><circle cx="141.4" cy="311.2" r="3.5"/><circle cx="141.4" cy="290.4" r="3.5"/><circle cx="141.4" cy="276.6" r="3.5"/><circle cx="141.4" cy="255.8" r="3.5"/><circle cx="141.4" cy="221.2" r="3.5"/><circle cx="141.4" cy="186.6" r="3.5"/><circle cx="141.4" cy="151.9" r="3.5"/><circle cx="141.4" cy="138.1" r="3.5"/><circle cx="141.4" cy="117.3" r="3.5"/><circle cx="141.4" cy="82.7" r="3.5"/><circle cx="141.4" cy="13.4" r="3.5"/><circle cx="181.7" cy="394.3" r="3.5"/><circle cx="181.7" cy="359.7" r="3.5"/><circle cx="181.7" cy="345.8" r="3.5"/><circle cx="181.7" cy="325.1" r="3.5"/><circle cx="181.7" cy="311.2" r="3.5"/><circle cx="181.7" cy="290.4" r="3.5"/><circle cx="181.7" cy="255.8" r="3.5"/><circle cx="181.7" cy="221.2" r="3.5"/><circle cx="181.7" cy="207.3" r="3.5"/><circle cx="181.7" cy="186.6" r="3.5"/><circle cx="181.7" cy="151.9" r="3.5"/><circle cx="181.7" cy="117.3" r="3.5"/><circle cx="181.7" cy="82.7" r="3.5"/><circle cx="181.7" cy="68.8" r="3.5"/><circle cx="181.7" cy="48.1" r="3.5"/><circle cx="181.7" cy="34.2" r="3.5"/><circle cx="181.7" cy="13.4" r="3.5"/><circle cx="222.0" cy="394.3" r="3.5"/><circle cx="222.0" cy="359.7" r="3.5"/><circle cx="222.0" cy="325.1" r="3.5"/><circle cx="222.0" cy="290.4" r="3.5"/><circle cx="222.0" cy="255.8" r="3.5"/><circle cx="222.0" cy="221.2" r="3.5"/><circle cx="222.0" cy="186.6" r="3.5"/><circle cx="222.0" cy="151.9" r="3.5"/><circle cx="222.0" cy="117.3" r="3.5"/><circle cx="222.0" cy="103.5" r="3.5"/><circle cx="222.0" cy="82.7" r="3.5"/><circle cx="222.0" cy="48.1" r="3.5"/><circle cx="222.0" cy="13.4" r="3.5"/><circle cx="262.3" cy="394.3" r="3.5"/><circle cx="262.3" cy="359.7" r="3.5"/><circle cx="262.3" cy="325.1" r="3.5"/><circle cx="262.3" cy="290.4" r="3.5"/><circle cx="262.3" cy="255.8" r="3.5"/><circle cx="262.3" cy="221.2" r="3.5"/><circle cx="262.3" cy="207.3" r="3.5"/><circle cx="262.3" cy="186.6" r="3.5"/><circle cx="262.3" cy="172.7" r="3.5"/><circle cx="262.3" cy="151.9" r="3.5"/><circle cx="262.3" cy="117.3" r="3.5"/><circle cx="262.3" cy="82.7" r="3.5"/><circle cx="262.3" cy="48.1" r="3.5"/><circle cx="262.3" cy="13.4" r="3.5"/><circle cx="302.6" cy="394.3" r="3.5"/><circle cx="302.6" cy="359.7" r="3.5"/><circle cx="302.6" cy="325.1" r="3.5"/><circle cx="302.6" cy="290.4" r="3.5"/><circle cx="302.6" cy="276.6" r="3.5"/><circle cx="302.6" cy="255.8" r="3.5"/><circle cx="302.6" cy="221.2" r="3.5"/><circle cx="302.6" cy="207.3" r="3.5"/><circle cx="302.6" cy="186.6" r="3.5"/><circle cx="302.6" cy="172.7" r="3.5"/><circle cx="302.6" cy="151.9" r="3.5"/><circle cx="302.6" cy="82.7" r="3.5"/><circle cx="302.6" cy="13.4" r="3.5"/><circle cx="342.9" cy="394.3" r="3.5"/><circle cx="342.9" cy="359.7" r="3.5"/><circle cx="342.9" cy="290.4" r="3.5"/><circle cx="342.9" cy="255.8" r="3.5"/><circle cx="342.9" cy="221.2" r="3.5"/><circle cx="342.9" cy="186.6" r="3.5"/><circle cx="342.9" cy="172.7" r="3.5"/><circle cx="342.9" cy="151.9" r="3.5"/><circle cx="342.9" cy="117.3" r="3.5"/><circle cx="342.9" cy="103.5" r="3.5"/><circle cx="342.9" cy="82.7" r="3.5"/><circle cx="342.9" cy="48.1" r="3.5"/><circle cx="383.2" cy="394.3" r="3.5"/><circle cx="383.2" cy="359.7" r="3.5"/><circle cx="383.2" cy="325.1" r="3.5"/><circle cx="383.2" cy="290.4" r="3.5"/><circle cx="383.2" cy="255.8" r="3.5"/><circle cx="383.2" cy="221.2" r="3.5"/><circle cx="383.2" cy="186.6" r="3.5"/><circle cx="383.2" cy="151.9" r="3.5"/><circle cx="383.2" cy="117.3" r="3.5"/><circle cx="383.2" cy="82.7" r="3.5"/><circle cx="383.2" cy="13.4" r="3.5"/><circle cx="423.5" cy="359.7" r="3.5"/><circle cx="423.5" cy="186.6" r="3.5"/><circle cx="423.5" cy="151.9" r="3.5"/><circle cx="423.5" cy="82.7" r="3.5"/><circle cx="463.8" cy="359.7" r="3.5"/><circle cx="463.8" cy="325.1" r="3.5"/><circle cx="463.8" cy="290.4" r="3.5"/><circle cx="463.8" cy="255.8" r="3.5"/><circle cx="463.8" cy="186.6" r="3.5"/><circle cx="463.8" cy="117.3" r="3.5"/><circle cx="463.8" cy="82.7" r="3.5"/><circle cx="504.1" cy="290.4" r="3.5"/><circle cx="504.1" cy="255.8" r="3.5"/><circle cx="504.1" cy="221.2" r="3.5"/><circle cx="504.1" cy="117.3" r="3.5"/><circle cx="504.1" cy="82.7" r="3.5"/><circle cx="544.4" cy="325.1" r="3.5"/><circle cx="544.4" cy="290.4" r="3.5"/><circle cx="544.4" cy="186.6" r="3.5"/><circle cx="584.7" cy="394.3" r="3.5"/><circle cx="584.7" cy="221.2" r="3.5"/><text x="453.5" y="13.7" font-size="15.7" fill="#000">Spearman correlation (<tspan font-family="Liberation Mono" fill-opacity="0.72">p-value</tspan>)</text><text x="453.5" y="32.1" font-size="15.7" fill="#000">Best track:</text><text x="578.5" y="32.1" font-size="15.7" fill="#000">0.57 (<tspan font-family="Liberation Mono" fill-opacity="0.72">&lt;0.05</tspan>)</text><text x="453.5" y="50.3" font-size="15.7" fill="#0000ff">Historical-CMIP5: 0.51 (<tspan font-family="Liberation Mono" fill-opacity="0.72">&lt;0.05</tspan>)</text><text x="453.5" y="68.6" font-size="15.7" fill="#ff0000">Historical-CMIP6: 0.54 (<tspan font-family="Liberation Mono" fill-opacity="0.72">&lt;0.05</tspan>)</text><path d="M58.7 451.8V834.0H664.0" stroke="#000" stroke-width="2.4" fill="none" stroke-linejoin="miter"/><path d="M58.7 834.0h7M58.7 795.9h7M58.7 757.8h7M58.7 719.7h7M58.7 681.6h7M58.7 643.5h7M58.7 605.4h7M58.7 567.3h7M58.7 529.2h7M58.7 491.1h7M58.7 453.0h7M99.0 834.0v-7M179.5 834.0v-7M260.1 834.0v-7M340.6 834.0v-7M421.1 834.0v-7M501.7 834.0v-7M582.2 834.0v-7M662.8 834.0v-7" stroke="#000" stroke-width="2.4" fill="none"/><text x="52.0" y="840.3" text-anchor="end" font-size="17.5">30</text><text x="52.0" y="802.2" text-anchor="end" font-size="17.5">35</text><text x="52.0" y="764.1" text-anchor="end" font-size="17.5">40</text><text x="52.0" y="726.0" text-anchor="end" font-size="17.5">45</text><text x="52.0" y="687.9" text-anchor="end" font-size="17.5">50</text><text x="52.0" y="649.8" text-anchor="end" font-size="17.5">55</text><text x="52.0" y="611.7" text-anchor="end" font-size="17.5">60</text><text x="52.0" y="573.6" text-anchor="end" font-size="17.5">65</text><text x="52.0" y="535.5" text-anchor="end" font-size="17.5">70</text><text x="52.0" y="497.4" text-anchor="end" font-size="17.5">75</text><text x="52.0" y="459.3" text-anchor="end" font-size="17.5">80</text><text x="99.0" y="858.0" text-anchor="middle" font-size="17.5">2</text><text x="179.5" y="858.0" text-anchor="middle" font-size="17.5">4</text><text x="260.1" y="858.0" text-anchor="middle" font-size="17.5">6</text><text x="340.6" y="858.0" text-anchor="middle" font-size="17.5">8</text><text x="421.1" y="858.0" text-anchor="middle" font-size="17.5">10</text><text x="501.7" y="858.0" text-anchor="middle" font-size="17.5">12</text><text x="582.2" y="858.0" text-anchor="middle" font-size="17.5">14</text><text x="662.8" y="858.0" text-anchor="middle" font-size="17.5">16</text><text x="288.8" y="879.4" font-size="19" textLength="143" lengthAdjust="spacing">TC lifetime (day)</text><g transform="translate(20.0,702.3) rotate(-90)" font-size="20"><text x="0" y="0">LMI</text><text x="42.9" y="0">(m</text><text x="65.9" y="-10" font-size="11.5">-1</text><text x="88.0" y="0">s</text><text x="98.1" y="-10" font-size="11.5">-1</text><text x="110.3" y="0">)</text></g><text x="661.0" y="822.5" text-anchor="end" font-size="25" textLength="34" lengthAdjust="spacing">(b)</text><path d="M55.1 779.7L62.3 786.9M55.1 786.9L62.3 779.7M55.1 822.8L62.3 830.0M55.1 830.0L62.3 822.8M95.4 771.1L102.6 778.3M95.4 778.3L102.6 771.1M95.4 786.5L102.6 793.7M95.4 793.7L102.6 786.5M95.4 767.2L102.6 774.4M95.4 774.4L102.6 767.2M95.4 735.9L102.6 743.1M95.4 743.1L102.6 735.9M95.4 805.0L102.6 812.2M95.4 812.2L102.6 805.0M95.4 800.3L102.6 807.5M95.4 807.5L102.6 800.3M95.4 754.2L102.6 761.4M95.4 761.4L102.6 754.2M95.4 818.3L102.6 825.5M95.4 825.5L102.6 818.3M135.6 686.9L142.8 694.1M135.6 694.1L142.8 686.9M135.6 723.3L142.8 730.5M135.6 730.5L142.8 723.3M135.6 676.9L142.8 684.1M135.6 684.1L142.8 676.9M135.6 657.1L142.8 664.3M135.6 664.3L142.8 657.1M135.6 634.2L142.8 641.4M135.6 641.4L142.8 634.2M135.6 813.9L142.8 821.1M135.6 821.1L142.8 813.9M135.6 753.3L142.8 760.5M135.6 760.5L142.8 753.3M135.6 630.0L142.8 637.2M135.6 637.2L142.8 630.0M135.6 629.0L142.8 636.2M135.6 636.2L142.8 629.0M135.6 708.3L142.8 715.5M135.6 715.5L142.8 708.3M135.6 801.2L142.8 808.4M135.6 808.4L142.8 801.2M135.6 736.9L142.8 744.1M135.6 744.1L142.8 736.9M135.6 808.6L142.8 815.8M135.6 815.8L142.8 808.6M135.6 690.6L142.8 697.8M135.6 697.8L142.8 690.6M135.6 823.7L142.8 830.9M135.6 830.9L142.8 823.7M135.6 641.3L142.8 648.5M135.6 648.5L142.8 641.3M135.6 626.3L142.8 633.5M135.6 633.5L142.8 626.3M135.6 637.5L142.8 644.7M135.6 644.7L142.8 637.5M175.9 828.9L183.1 836.1M175.9 836.1L183.1 828.9M175.9 792.9L183.1 800.1M175.9 800.1L183.1 792.9M175.9 820.6L183.1 827.8M175.9 827.8L183.1 820.6M175.9 716.3L183.1 723.5M175.9 723.5L183.1 716.3M175.9 788.6L183.1 795.8M175.9 795.8L183.1 788.6M175.9 741.8L183.1 749.0M175.9 749.0L183.1 741.8M175.9 738.2L183.1 745.4M175.9 745.4L183.1 738.2M175.9 824.2L183.1 831.4M175.9 831.4L183.1 824.2M175.9 779.0L183.1 786.2M175.9 786.2L183.1 779.0M175.9 642.2L183.1 649.4M175.9 649.4L183.1 642.2M175.9 745.5L183.1 752.7M175.9 752.7L183.1 745.5M175.9 718.6L183.1 725.8M175.9 725.8L183.1 718.6M175.9 590.4L183.1 597.6M175.9 597.6L183.1 590.4M175.9 732.5L183.1 739.7M175.9 739.7L183.1 732.5M175.9 701.6L183.1 708.8M175.9 708.8L183.1 701.6M216.2 758.0L223.4 765.2M216.2 765.2L223.4 758.0M216.2 782.9L223.4 790.1M216.2 790.1L223.4 782.9M216.2 706.5L223.4 713.7M216.2 713.7L223.4 706.5M216.2 646.4L223.4 653.6M216.2 653.6L223.4 646.4M216.2 676.8L223.4 684.0M216.2 684.0L223.4 676.8M216.2 651.8L223.4 659.0M216.2 659.0L223.4 651.8M216.2 825.5L223.4 832.7M216.2 832.7L223.4 825.5M216.2 609.0L223.4 616.2M216.2 616.2L223.4 609.0M216.2 639.1L223.4 646.3M216.2 646.3L223.4 639.1M216.2 709.8L223.4 717.0M216.2 717.0L223.4 709.8M216.2 679.9L223.4 687.1M216.2 687.1L223.4 679.9M216.2 624.4L223.4 631.6M216.2 631.6L223.4 624.4M216.2 712.3L223.4 719.5M216.2 719.5L223.4 712.3M216.2 774.9L223.4 782.1M216.2 782.1L223.4 774.9M216.2 689.8L223.4 697.0M216.2 697.0L223.4 689.8M216.2 683.1L223.4 690.3M216.2 690.3L223.4 683.1M216.2 641.5L223.4 648.7M216.2 648.7L223.4 641.5M216.2 729.5L223.4 736.7M216.2 736.7L223.4 729.5M216.2 688.4L223.4 695.6M216.2 695.6L223.4 688.4M216.2 613.0L223.4 620.2M216.2 620.2L223.4 613.0M256.4 731.0L263.7 738.2M256.4 738.2L263.7 731.0M256.4 680.9L263.7 688.1M256.4 688.1L263.7 680.9M256.4 694.6L263.7 701.8M256.4 701.8L263.7 694.6M256.4 623.8L263.7 631.0M256.4 631.0L263.7 623.8M256.4 669.1L263.7 676.3M256.4 676.3L263.7 669.1M256.4 754.7L263.7 761.9M256.4 761.9L263.7 754.7M256.4 710.4L263.7 717.6M256.4 717.6L263.7 710.4M256.4 653.4L263.7 660.6M256.4 660.6L263.7 653.4M256.4 671.6L263.7 678.8M256.4 678.8L263.7 671.6M256.4 743.1L263.7 750.3M256.4 750.3L263.7 743.1M296.7 757.8L303.9 765.0M296.7 765.0L303.9 757.8M296.7 731.7L303.9 738.9M296.7 738.9L303.9 731.7M296.7 746.8L303.9 754.0M296.7 754.0L303.9 746.8M296.7 684.4L303.9 691.6M296.7 691.6L303.9 684.4M296.7 690.1L303.9 697.3M296.7 697.3L303.9 690.1M296.7 717.2L303.9 724.4M296.7 724.4L303.9 717.2M296.7 620.1L303.9 627.3M296.7 627.3L303.9 620.1M296.7 684.5L303.9 691.7M296.7 691.7L303.9 684.5M296.7 665.1L303.9 672.3M296.7 672.3L303.9 665.1M296.7 706.6L303.9 713.8M296.7 713.8L303.9 706.6M337.0 640.2L344.2 647.4M337.0 647.4L344.2 640.2M337.0 674.8L344.2 682.0M337.0 682.0L344.2 674.8M337.0 684.8L344.2 692.0M337.0 692.0L344.2 684.8M337.0 655.9L344.2 663.1M337.0 663.1L344.2 655.9M337.0 672.1L344.2 679.3M337.0 679.3L344.2 672.1M337.0 631.2L344.2 638.4M337.0 638.4L344.2 631.2M337.0 651.9L344.2 659.1M337.0 659.1L344.2 651.9M337.0 647.1L344.2 654.3M337.0 654.3L344.2 647.1M377.3 592.7L384.5 599.9M377.3 599.9L384.5 592.7M377.3 696.3L384.5 703.5M377.3 703.5L384.5 696.3M377.3 681.0L384.5 688.2M377.3 688.2L384.5 681.0M377.3 640.7L384.5 647.9M377.3 647.9L384.5 640.7M417.5 710.0L424.7 717.2M417.5 717.2L424.7 710.0M417.5 625.4L424.7 632.6M417.5 632.6L424.7 625.4M417.5 601.0L424.7 608.2M417.5 608.2L424.7 601.0M417.5 595.7L424.7 602.9M417.5 602.9L424.7 595.7M457.8 687.1L465.0 694.3M457.8 694.3L465.0 687.1M457.8 628.5L465.0 635.7M457.8 635.7L465.0 628.5M457.8 694.8L465.0 702.0M457.8 702.0L465.0 694.8M498.1 674.2L505.3 681.4M498.1 681.4L505.3 674.2M498.1 658.2L505.3 665.4M498.1 665.4L505.3 658.2M538.3 641.4L545.5 648.6M538.3 648.6L545.5 641.4M578.6 666.6L585.8 673.8M578.6 673.8L585.8 666.6" stroke="#ff0000" stroke-width="1" fill="none"/><path d="M55.1 779.7L62.3 786.9M55.1 786.9L62.3 779.7M95.4 826.3L102.6 833.5M95.4 833.5L102.6 826.3M95.4 767.6L102.6 774.8M95.4 774.8L102.6 767.6M95.4 829.9L102.6 837.1M95.4 837.1L102.6 829.9M95.4 778.2L102.6 785.4M95.4 785.4L102.6 778.2M95.4 812.3L102.6 819.5M95.4 819.5L102.6 812.3M95.4 804.2L102.6 811.4M95.4 811.4L102.6 804.2M95.4 808.7L102.6 815.9M95.4 815.9L102.6 808.7M95.4 758.9L102.6 766.1M95.4 766.1L102.6 758.9M135.6 731.2L142.8 738.4M135.6 738.4L142.8 731.2M135.6 665.8L142.8 673.0M135.6 673.0L142.8 665.8M135.6 724.2L142.8 731.4M135.6 731.4L142.8 724.2M135.6 603.3L142.8 610.5M135.6 610.5L142.8 603.3M135.6 800.2L142.8 807.4M135.6 807.4L142.8 800.2M135.6 657.4L142.8 664.6M135.6 664.6L142.8 657.4M135.6 761.4L142.8 768.6M135.6 768.6L142.8 761.4M135.6 792.3L142.8 799.5M135.6 799.5L142.8 792.3M135.6 659.3L142.8 666.5M135.6 666.5L142.8 659.3M135.6 698.2L142.8 705.4M135.6 705.4L142.8 698.2M135.6 653.5L142.8 660.7M135.6 660.7L142.8 653.5M135.6 760.1L142.8 767.3M135.6 767.3L142.8 760.1M135.6 667.8L142.8 675.0M135.6 675.0L142.8 667.8M135.6 715.4L142.8 722.6M135.6 722.6L142.8 715.4M135.6 766.8L142.8 774.0M135.6 774.0L142.8 766.8M135.6 702.4L142.8 709.6M135.6 709.6L142.8 702.4M135.6 650.7L142.8 657.9M135.6 657.9L142.8 650.7M135.6 645.2L142.8 652.4M135.6 652.4L142.8 645.2M135.6 747.8L142.8 755.0M135.6 755.0L142.8 747.8M135.6 720.6L142.8 727.8M135.6 727.8L142.8 720.6M135.6 596.5L142.8 603.7M135.6 603.7L142.8 596.5M135.6 664.5L142.8 671.7M135.6 671.7L142.8 664.5M135.6 673.4L142.8 680.6M135.6 680.6L142.8 673.4M135.6 736.6L142.8 743.8M135.6 743.8L142.8 736.6M135.6 782.3L142.8 789.5M135.6 789.5L142.8 782.3M135.6 666.9L142.8 674.1M135.6 674.1L142.8 666.9M135.6 674.4L142.8 681.6M135.6 681.6L142.8 674.4M135.6 682.2L142.8 689.4M135.6 689.4L142.8 682.2M135.6 705.2L142.8 712.4M135.6 712.4L142.8 705.2M135.6 726.4L142.8 733.6M135.6 733.6L142.8 726.4M135.6 638.1L142.8 645.3M135.6 645.3L142.8 638.1M135.6 641.5L142.8 648.7M135.6 648.7L142.8 641.5M135.6 786.7L142.8 793.9M135.6 793.9L142.8 786.7M135.6 655.8L142.8 663.0M135.6 663.0L142.8 655.8M135.6 739.8L142.8 747.0M135.6 747.0L142.8 739.8M135.6 769.4L142.8 776.6M135.6 776.6L142.8 769.4M135.6 752.8L142.8 760.0M135.6 760.0L142.8 752.8M135.6 677.3L142.8 684.5M135.6 684.5L142.8 677.3M135.6 627.8L142.8 635.0M135.6 635.0L142.8 627.8M175.9 685.7L183.1 692.9M175.9 692.9L183.1 685.7M175.9 798.2L183.1 805.4M175.9 805.4L183.1 798.2M175.9 698.7L183.1 705.9M175.9 705.9L183.1 698.7M175.9 736.5L183.1 743.7M175.9 743.7L183.1 736.5M175.9 702.6L183.1 709.8M175.9 709.8L183.1 702.6M175.9 637.3L183.1 644.5M175.9 644.5L183.1 637.3M175.9 693.7L183.1 700.9M175.9 700.9L183.1 693.7M175.9 597.2L183.1 604.4M175.9 604.4L183.1 597.2M175.9 757.9L183.1 765.1M175.9 765.1L183.1 757.9M175.9 708.4L183.1 715.6M175.9 715.6L183.1 708.4M175.9 709.5L183.1 716.7M175.9 716.7L183.1 709.5M175.9 674.9L183.1 682.1M175.9 682.1L183.1 674.9M175.9 793.0L183.1 800.2M175.9 800.2L183.1 793.0M175.9 760.5L183.1 767.7M175.9 767.7L183.1 760.5M175.9 701.5L183.1 708.7M175.9 708.7L183.1 701.5M175.9 588.1L183.1 595.3M175.9 595.3L183.1 588.1M175.9 736.1L183.1 743.3M175.9 743.3L183.1 736.1M175.9 751.6L183.1 758.8M175.9 758.8L183.1 751.6M175.9 671.7L183.1 678.9M175.9 678.9L183.1 671.7M175.9 716.2L183.1 723.4M175.9 723.4L183.1 716.2M175.9 719.1L183.1 726.3M175.9 726.3L183.1 719.1M175.9 713.6L183.1 720.8M175.9 720.8L183.1 713.6M175.9 712.2L183.1 719.4M175.9 719.4L183.1 712.2M175.9 826.0L183.1 833.2M175.9 833.2L183.1 826.0M175.9 714.3L183.1 721.5M175.9 721.5L183.1 714.3M175.9 744.6L183.1 751.8M175.9 751.8L183.1 744.6M175.9 762.7L183.1 769.9M175.9 769.9L183.1 762.7M175.9 824.8L183.1 832.0M175.9 832.0L183.1 824.8M175.9 677.8L183.1 685.0M175.9 685.0L183.1 677.8M175.9 666.1L183.1 673.3M175.9 673.3L183.1 666.1M175.9 687.3L183.1 694.5M175.9 694.5L183.1 687.3M216.2 667.4L223.4 674.6M216.2 674.6L223.4 667.4M216.2 578.8L223.4 586.0M216.2 586.0L223.4 578.8M216.2 669.6L223.4 676.8M216.2 676.8L223.4 669.6M216.2 673.9L223.4 681.1M216.2 681.1L223.4 673.9M216.2 712.6L223.4 719.8M216.2 719.8L223.4 712.6M216.2 812.0L223.4 819.2M216.2 819.2L223.4 812.0M216.2 599.5L223.4 606.7M216.2 606.7L223.4 599.5M216.2 737.8L223.4 745.0M216.2 745.0L223.4 737.8M216.2 740.3L223.4 747.5M216.2 747.5L223.4 740.3M216.2 600.8L223.4 608.0M216.2 608.0L223.4 600.8M216.2 660.4L223.4 667.6M216.2 667.6L223.4 660.4M216.2 768.2L223.4 775.4M216.2 775.4L223.4 768.2M216.2 625.2L223.4 632.4M216.2 632.4L223.4 625.2M216.2 715.1L223.4 722.3M216.2 722.3L223.4 715.1M216.2 772.6L223.4 779.8M216.2 779.8L223.4 772.6M216.2 656.8L223.4 664.0M216.2 664.0L223.4 656.8M216.2 690.3L223.4 697.5M216.2 697.5L223.4 690.3M216.2 642.1L223.4 649.3M216.2 649.3L223.4 642.1M216.2 724.1L223.4 731.3M216.2 731.3L223.4 724.1M216.2 587.2L223.4 594.4M216.2 594.4L223.4 587.2M216.2 653.0L223.4 660.2M216.2 660.2L223.4 653.0M216.2 621.3L223.4 628.5M216.2 628.5L223.4 621.3M216.2 621.6L223.4 628.8M216.2 628.8L223.4 621.6M216.2 639.2L223.4 646.4M216.2 646.4L223.4 639.2M216.2 822.0L223.4 829.2M216.2 829.2L223.4 822.0M216.2 614.1L223.4 621.3M216.2 621.3L223.4 614.1M216.2 788.4L223.4 795.6M216.2 795.6L223.4 788.4M216.2 603.2L223.4 610.4M216.2 610.4L223.4 603.2M216.2 617.7L223.4 624.9M216.2 624.9L223.4 617.7M216.2 704.0L223.4 711.2M216.2 711.2L223.4 704.0M256.4 735.5L263.7 742.7M256.4 742.7L263.7 735.5M256.4 662.7L263.7 669.9M256.4 669.9L263.7 662.7M256.4 754.5L263.7 761.7M256.4 761.7L263.7 754.5M256.4 649.2L263.7 656.4M256.4 656.4L263.7 649.2M256.4 616.8L263.7 624.0M256.4 624.0L263.7 616.8M256.4 693.7L263.7 700.9M256.4 700.9L263.7 693.7M256.4 643.6L263.7 650.8M256.4 650.8L263.7 643.6M256.4 707.1L263.7 714.3M256.4 714.3L263.7 707.1M256.4 603.7L263.7 610.9M256.4 610.9L263.7 603.7M256.4 622.4L263.7 629.6M256.4 629.6L263.7 622.4M256.4 756.5L263.7 763.7M256.4 763.7L263.7 756.5M256.4 679.8L263.7 687.0M256.4 687.0L263.7 679.8M256.4 816.7L263.7 823.9M256.4 823.9L263.7 816.7M256.4 727.0L263.7 734.2M256.4 734.2L263.7 727.0M256.4 575.9L263.7 583.1M256.4 583.1L263.7 575.9M256.4 723.1L263.7 730.3M256.4 730.3L263.7 723.1M256.4 656.0L263.7 663.2M256.4 663.2L263.7 656.0M296.7 686.8L303.9 694.0M296.7 694.0L303.9 686.8M296.7 643.2L303.9 650.4M296.7 650.4L303.9 643.2M296.7 702.1L303.9 709.3M296.7 709.3L303.9 702.1M296.7 689.2L303.9 696.4M296.7 696.4L303.9 689.2M296.7 712.1L303.9 719.3M296.7 719.3L303.9 712.1M296.7 605.6L303.9 612.8M296.7 612.8L303.9 605.6M296.7 722.0L303.9 729.2M296.7 729.2L303.9 722.0M296.7 705.0L303.9 712.2M296.7 712.2L303.9 705.0M296.7 655.9L303.9 663.1M296.7 663.1L303.9 655.9M296.7 745.9L303.9 753.1M296.7 753.1L303.9 745.9M296.7 680.5L303.9 687.7M296.7 687.7L303.9 680.5M296.7 784.7L303.9 791.9M296.7 791.9L303.9 784.7M296.7 741.0L303.9 748.2M296.7 748.2L303.9 741.0M296.7 670.8L303.9 678.0M296.7 678.0L303.9 670.8M296.7 553.8L303.9 561.0M296.7 561.0L303.9 553.8M296.7 734.4L303.9 741.6M296.7 741.6L303.9 734.4M296.7 762.4L303.9 769.6M296.7 769.6L303.9 762.4M337.0 629.9L344.2 637.1M337.0 637.1L344.2 629.9M337.0 585.0L344.2 592.2M337.0 592.2L344.2 585.0M337.0 634.7L344.2 641.9M337.0 641.9L344.2 634.7M337.0 678.4L344.2 685.6M337.0 685.6L344.2 678.4M337.0 610.3L344.2 617.5M337.0 617.5L344.2 610.3M337.0 603.3L344.2 610.5M337.0 610.5L344.2 603.3M337.0 611.7L344.2 618.9M337.0 618.9L344.2 611.7M337.0 619.8L344.2 627.0M337.0 627.0L344.2 619.8M337.0 604.5L344.2 611.7M337.0 611.7L344.2 604.5M337.0 591.8L344.2 599.0M337.0 599.0L344.2 591.8M337.0 659.4L344.2 666.6M337.0 666.6L344.2 659.4M337.0 598.2L344.2 605.4M337.0 605.4L344.2 598.2M377.3 642.9L384.5 650.1M377.3 650.1L384.5 642.9M377.3 665.8L384.5 673.0M377.3 673.0L384.5 665.8M377.3 711.5L384.5 718.7M377.3 718.7L384.5 711.5M377.3 658.9L384.5 666.1M377.3 666.1L384.5 658.9M377.3 614.8L384.5 622.0M377.3 622.0L384.5 614.8M417.5 731.3L424.7 738.5M417.5 738.5L424.7 731.3M417.5 644.5L424.7 651.7M417.5 651.7L424.7 644.5M457.8 649.0L465.0 656.2M457.8 656.2L465.0 649.0M457.8 674.2L465.0 681.4M457.8 681.4L465.0 674.2M498.1 713.8L505.3 721.0M498.1 721.0L505.3 713.8M498.1 621.6L505.3 628.8M498.1 628.8L505.3 621.6M538.3 649.8L545.5 657.0M538.3 657.0L545.5 649.8M578.6 671.9L585.8 679.1M578.6 679.1L585.8 671.9M578.6 619.3L585.8 626.5M578.6 626.5L585.8 619.3M618.9 679.5L626.1 686.7M618.9 686.7L626.1 679.5" stroke="#0000ff" stroke-width="1" fill="none"/><path d="M55.1 655.5L62.3 662.7M55.1 662.7L62.3 655.5M55.1 817.4L62.3 824.6M55.1 824.6L62.3 817.4M95.4 762.3L102.6 769.5M95.4 769.5L102.6 762.3M95.4 822.6L102.6 829.8M95.4 829.8L102.6 822.6M95.4 807.8L102.6 815.0M95.4 815.0L102.6 807.8M95.4 799.3L102.6 806.5M95.4 806.5L102.6 799.3M95.4 740.5L102.6 747.7M95.4 747.7L102.6 740.5M95.4 782.3L102.6 789.5M95.4 789.5L102.6 782.3M95.4 779.5L102.6 786.7M95.4 786.7L102.6 779.5M135.6 743.5L142.8 750.7M135.6 750.7L142.8 743.5M135.6 790.3L142.8 797.5M135.6 797.5L142.8 790.3M135.6 650.8L142.8 658.0M135.6 658.0L142.8 650.8M135.6 741.9L142.8 749.1M135.6 749.1L142.8 741.9M135.6 699.5L142.8 706.7M135.6 706.7L142.8 699.5M135.6 756.9L142.8 764.1M135.6 764.1L142.8 756.9M135.6 829.7L142.8 836.9M135.6 836.9L142.8 829.7M135.6 619.2L142.8 626.4M135.6 626.4L142.8 619.2M135.6 631.0L142.8 638.2M135.6 638.2L142.8 631.0M135.6 778.2L142.8 785.4M135.6 785.4L142.8 778.2M135.6 642.8L142.8 650.0M135.6 650.0L142.8 642.8M135.6 635.0L142.8 642.2M135.6 642.2L142.8 635.0M135.6 616.8L142.8 624.0M135.6 624.0L142.8 616.8M135.6 711.7L142.8 718.9M135.6 718.9L142.8 711.7M135.6 682.8L142.8 690.0M135.6 690.0L142.8 682.8M135.6 769.3L142.8 776.5M135.6 776.5L142.8 769.3M135.6 640.2L142.8 647.4M135.6 647.4L142.8 640.2M135.6 797.1L142.8 804.3M135.6 804.3L142.8 797.1M175.9 613.2L183.1 620.4M175.9 620.4L183.1 613.2M175.9 667.6L183.1 674.8M175.9 674.8L183.1 667.6M175.9 708.3L183.1 715.5M175.9 715.5L183.1 708.3M175.9 674.7L183.1 681.9M175.9 681.9L183.1 674.7M175.9 647.4L183.1 654.6M175.9 654.6L183.1 647.4M175.9 758.5L183.1 765.7M175.9 765.7L183.1 758.5M175.9 656.5L183.1 663.7M175.9 663.7L183.1 656.5M175.9 807.5L183.1 814.7M175.9 814.7L183.1 807.5M175.9 771.9L183.1 779.1M175.9 779.1L183.1 771.9M175.9 694.0L183.1 701.2M175.9 701.2L183.1 694.0M175.9 728.9L183.1 736.1M175.9 736.1L183.1 728.9M175.9 722.2L183.1 729.4M175.9 729.4L183.1 722.2M175.9 752.3L183.1 759.5M175.9 759.5L183.1 752.3M175.9 662.8L183.1 670.0M175.9 670.0L183.1 662.8M175.9 767.7L183.1 774.9M175.9 774.9L183.1 767.7M216.2 721.5L223.4 728.7M216.2 728.7L223.4 721.5M216.2 704.8L223.4 712.0M216.2 712.0L223.4 704.8M216.2 627.9L223.4 635.1M216.2 635.1L223.4 627.9M216.2 770.9L223.4 778.1M216.2 778.1L223.4 770.9M216.2 618.9L223.4 626.1M216.2 626.1L223.4 618.9M216.2 814.5L223.4 821.7M216.2 821.7L223.4 814.5M216.2 623.7L223.4 630.9M216.2 630.9L223.4 623.7M216.2 742.7L223.4 749.9M216.2 749.9L223.4 742.7M216.2 823.4L223.4 830.6M216.2 830.6L223.4 823.4M216.2 724.3L223.4 731.5M216.2 731.5L223.4 724.3M216.2 744.4L223.4 751.6M216.2 751.6L223.4 744.4M216.2 790.1L223.4 797.3M216.2 797.3L223.4 790.1M216.2 633.6L223.4 640.8M216.2 640.8L223.4 633.6M216.2 682.5L223.4 689.7M216.2 689.7L223.4 682.5M216.2 763.3L223.4 770.5M216.2 770.5L223.4 763.3M216.2 693.8L223.4 701.0M216.2 701.0L223.4 693.8M216.2 795.6L223.4 802.8M216.2 802.8L223.4 795.6M216.2 605.8L223.4 613.0M216.2 613.0L223.4 605.8M216.2 800.6L223.4 807.8M216.2 807.8L223.4 800.6M216.2 717.7L223.4 724.9M216.2 724.9L223.4 717.7M256.4 699.1L263.7 706.3M256.4 706.3L263.7 699.1M256.4 686.5L263.7 693.7M256.4 693.7L263.7 686.5M256.4 632.8L263.7 640.0M256.4 640.0L263.7 632.8M256.4 742.2L263.7 749.4M256.4 749.4L263.7 742.2M256.4 611.7L263.7 618.9M256.4 618.9L263.7 611.7M256.4 808.3L263.7 815.5M256.4 815.5L263.7 808.3M256.4 604.2L263.7 611.4M256.4 611.4L263.7 604.2M256.4 646.5L263.7 653.7M256.4 653.7L263.7 646.5M256.4 715.8L263.7 723.0M256.4 723.0L263.7 715.8M256.4 629.2L263.7 636.4M256.4 636.4L263.7 629.2M296.7 708.2L303.9 715.4M296.7 715.4L303.9 708.2M296.7 740.6L303.9 747.8M296.7 747.8L303.9 740.6M296.7 648.4L303.9 655.6M296.7 655.6L303.9 648.4M296.7 727.9L303.9 735.1M296.7 735.1L303.9 727.9M296.7 677.5L303.9 684.7M296.7 684.7L303.9 677.5M296.7 702.8L303.9 710.0M296.7 710.0L303.9 702.8M296.7 655.2L303.9 662.4M296.7 662.4L303.9 655.2M296.7 697.2L303.9 704.4M296.7 704.4L303.9 697.2M296.7 672.9L303.9 680.1M296.7 680.1L303.9 672.9M296.7 751.5L303.9 758.7M296.7 758.7L303.9 751.5M337.0 624.6L344.2 631.8M337.0 631.8L344.2 624.6M337.0 663.4L344.2 670.6M337.0 670.6L344.2 663.4M337.0 643.4L344.2 650.6M337.0 650.6L344.2 643.4M337.0 665.4L344.2 672.6M337.0 672.6L344.2 665.4M337.0 707.7L344.2 714.9M337.0 714.9L344.2 707.7M337.0 688.9L344.2 696.1M337.0 696.1L344.2 688.9M337.0 678.3L344.2 685.5M337.0 685.5L344.2 678.3M337.0 623.8L344.2 631.0M337.0 631.0L344.2 623.8M377.3 688.7L384.5 695.9M377.3 695.9L384.5 688.7M377.3 651.3L384.5 658.5M377.3 658.5L384.5 651.3M377.3 684.9L384.5 692.1M377.3 692.1L384.5 684.9M377.3 738.2L384.5 745.4M377.3 745.4L384.5 738.2M417.5 660.5L424.7 667.7M417.5 667.7L424.7 660.5M417.5 692.5L424.7 699.7M417.5 699.7L424.7 692.5M417.5 579.7L424.7 586.9M417.5 586.9L424.7 579.7M417.5 698.6L424.7 705.8M417.5 705.8L424.7 698.6M457.8 728.3L465.0 735.5M457.8 735.5L465.0 728.3M457.8 633.0L465.0 640.2M457.8 640.2L465.0 633.0M457.8 702.4L465.0 709.6M457.8 709.6L465.0 702.4M498.1 579.7L505.3 586.9M498.1 586.9L505.3 579.7M498.1 666.6L505.3 673.8M498.1 673.8L505.3 666.6M578.6 578.2L585.8 585.4M578.6 585.4L585.8 578.2" stroke="#ff0000" stroke-width="1" fill="none"/><path d="M95.4 748.9L102.6 756.1M95.4 756.1L102.6 748.9M95.4 768.2L102.6 775.4M95.4 775.4L102.6 768.2M95.4 816.2L102.6 823.4M95.4 823.4L102.6 816.2M95.4 794.3L102.6 801.5M95.4 801.5L102.6 794.3M95.4 774.0L102.6 781.2M95.4 781.2L102.6 774.0M95.4 790.9L102.6 798.1M95.4 798.1L102.6 790.9M95.4 780.7L102.6 787.9M95.4 787.9L102.6 780.7M95.4 796.6L102.6 803.8M95.4 803.8L102.6 796.6M135.6 683.5L142.8 690.7M135.6 690.7L142.8 683.5M135.6 651.9L142.8 659.1M135.6 659.1L142.8 651.9M135.6 733.8L142.8 741.0M135.6 741.0L142.8 733.8M135.6 684.1L142.8 691.3M135.6 691.3L142.8 684.1M135.6 764.5L142.8 771.7M135.6 771.7L142.8 764.5M135.6 659.9L142.8 667.1M135.6 667.1L142.8 659.9M135.6 694.8L142.8 702.0M135.6 702.0L142.8 694.8M135.6 812.3L142.8 819.5M135.6 819.5L142.8 812.3M135.6 674.8L142.8 682.0M135.6 682.0L142.8 674.8M135.6 678.3L142.8 685.5M135.6 685.5L142.8 678.3M135.6 780.2L142.8 787.4M135.6 787.4L142.8 780.2M135.6 745.2L142.8 752.4M135.6 752.4L142.8 745.2M135.6 669.3L142.8 676.5M135.6 676.5L142.8 669.3M135.6 672.2L142.8 679.4M135.6 679.4L142.8 672.2M135.6 742.2L142.8 749.4M135.6 749.4L142.8 742.2M135.6 807.4L142.8 814.6M135.6 814.6L142.8 807.4M135.6 730.6L142.8 737.8M135.6 737.8L142.8 730.6M135.6 708.9L142.8 716.1M135.6 716.1L142.8 708.9M135.6 708.2L142.8 715.4M135.6 715.4L142.8 708.2M135.6 721.6L142.8 728.8M135.6 728.8L142.8 721.6M135.6 693.7L142.8 700.9M135.6 700.9L142.8 693.7M135.6 788.9L142.8 796.1M135.6 796.1L142.8 788.9M135.6 822.9L142.8 830.1M135.6 830.1L142.8 822.9M135.6 687.5L142.8 694.7M135.6 694.7L142.8 687.5M135.6 634.9L142.8 642.1M135.6 642.1L142.8 634.9M135.6 662.5L142.8 669.7M135.6 669.7L142.8 662.5M135.6 756.4L142.8 763.6M135.6 763.6L142.8 756.4M135.6 606.4L142.8 613.6M135.6 613.6L142.8 606.4M135.6 656.5L142.8 663.7M135.6 663.7L142.8 656.5M135.6 829.3L142.8 836.5M135.6 836.5L142.8 829.3M135.6 717.3L142.8 724.5M135.6 724.5L142.8 717.3M135.6 622.9L142.8 630.1M135.6 630.1L142.8 622.9M135.6 713.9L142.8 721.1M135.6 721.1L142.8 713.9M135.6 699.2L142.8 706.4M135.6 706.4L142.8 699.2M135.6 712.5L142.8 719.7M135.6 719.7L142.8 712.5M135.6 670.6L142.8 677.8M135.6 677.8L142.8 670.6M135.6 757.6L142.8 764.8M135.6 764.8L142.8 757.6M135.6 795.5L142.8 802.7M135.6 802.7L142.8 795.5M135.6 690.2L142.8 697.4M135.6 697.4L142.8 690.2M175.9 725.6L183.1 732.8M175.9 732.8L183.1 725.6M175.9 753.7L183.1 760.9M175.9 760.9L183.1 753.7M175.9 776.1L183.1 783.3M175.9 783.3L183.1 776.1M175.9 646.3L183.1 653.5M175.9 653.5L183.1 646.3M175.9 772.2L183.1 779.4M175.9 779.4L183.1 772.2M175.9 778.2L183.1 785.4M175.9 785.4L183.1 778.2M175.9 693.5L183.1 700.7M175.9 700.7L183.1 693.5M175.9 704.2L183.1 711.4M175.9 711.4L183.1 704.2M175.9 650.7L183.1 657.9M175.9 657.9L183.1 650.7M175.9 718.5L183.1 725.7M175.9 725.7L183.1 718.5M175.9 681.8L183.1 689.0M175.9 689.0L183.1 681.8M175.9 727.2L183.1 734.4M175.9 734.4L183.1 727.2M175.9 657.3L183.1 664.5M175.9 664.5L183.1 657.3M175.9 691.6L183.1 698.8M175.9 698.8L183.1 691.6M175.9 734.2L183.1 741.4M175.9 741.4L183.1 734.2M175.9 689.7L183.1 696.9M175.9 696.9L183.1 689.7M175.9 747.1L183.1 754.3M175.9 754.3L183.1 747.1M175.9 664.3L183.1 671.5M175.9 671.5L183.1 664.3M175.9 651.1L183.1 658.3M175.9 658.3L183.1 651.1M175.9 810.4L183.1 817.6M175.9 817.6L183.1 810.4M175.9 660.3L183.1 667.5M175.9 667.5L183.1 660.3M175.9 731.8L183.1 739.0M175.9 739.0L183.1 731.8M175.9 723.6L183.1 730.8M175.9 730.8L183.1 723.6M175.9 740.4L183.1 747.6M175.9 747.6L183.1 740.4M175.9 771.4L183.1 778.6M175.9 778.6L183.1 771.4M175.9 729.4L183.1 736.6M175.9 736.6L183.1 729.4M175.9 673.4L183.1 680.6M175.9 680.6L183.1 673.4M175.9 668.8L183.1 676.0M175.9 676.0L183.1 668.8M175.9 639.6L183.1 646.8M175.9 646.8L183.1 639.6M175.9 738.9L183.1 746.1M175.9 746.1L183.1 738.9M175.9 662.3L183.1 669.5M175.9 669.5L183.1 662.3M216.2 734.5L223.4 741.7M216.2 741.7L223.4 734.5M216.2 686.4L223.4 693.6M216.2 693.6L223.4 686.4M216.2 672.9L223.4 680.1M216.2 680.1L223.4 672.9M216.2 581.9L223.4 589.1M216.2 589.1L223.4 581.9M216.2 682.5L223.4 689.7M216.2 689.7L223.4 682.5M216.2 756.5L223.4 763.7M216.2 763.7L223.4 756.5M216.2 608.5L223.4 615.7M216.2 615.7L223.4 608.5M216.2 633.6L223.4 640.8M216.2 640.8L223.4 633.6M216.2 660.5L223.4 667.7M216.2 667.7L223.4 660.5M216.2 795.2L223.4 802.4M216.2 802.4L223.4 795.2M216.2 664.5L223.4 671.7M216.2 671.7L223.4 664.5M216.2 589.5L223.4 596.7M216.2 596.7L223.4 589.5M216.2 666.9L223.4 674.1M216.2 674.1L223.4 666.9M216.2 560.7L223.4 567.9M216.2 567.9L223.4 560.7M216.2 716.3L223.4 723.5M216.2 723.5L223.4 716.3M216.2 669.0L223.4 676.2M216.2 676.2L223.4 669.0M216.2 722.0L223.4 729.2M216.2 729.2L223.4 722.0M216.2 594.5L223.4 601.7M216.2 601.7L223.4 594.5M216.2 644.1L223.4 651.3M216.2 651.3L223.4 644.1M216.2 593.2L223.4 600.4M216.2 600.4L223.4 593.2M216.2 743.6L223.4 750.8M216.2 750.8L223.4 743.6M216.2 751.6L223.4 758.8M216.2 758.8L223.4 751.6M216.2 657.5L223.4 664.7M216.2 664.7L223.4 657.5M216.2 694.9L223.4 702.1M216.2 702.1L223.4 694.9M216.2 611.4L223.4 618.6M216.2 618.6L223.4 611.4M216.2 696.6L223.4 703.8M216.2 703.8L223.4 696.6M216.2 736.4L223.4 743.6M216.2 743.6L223.4 736.4M216.2 728.1L223.4 735.3M216.2 735.3L223.4 728.1M216.2 671.7L223.4 678.9M216.2 678.9L223.4 671.7M256.4 612.9L263.7 620.1M256.4 620.1L263.7 612.9M256.4 716.9L263.7 724.1M256.4 724.1L263.7 716.9M256.4 752.0L263.7 759.2M256.4 759.2L263.7 752.0M256.4 669.5L263.7 676.7M256.4 676.7L263.7 669.5M256.4 588.1L263.7 595.3M256.4 595.3L263.7 588.1M256.4 740.0L263.7 747.2M256.4 747.2L263.7 740.0M256.4 749.1L263.7 756.3M256.4 756.3L263.7 749.1M256.4 772.5L263.7 779.7M256.4 779.7L263.7 772.5M256.4 626.2L263.7 633.4M256.4 633.4L263.7 626.2M256.4 654.8L263.7 662.0M256.4 662.0L263.7 654.8M256.4 734.9L263.7 742.1M256.4 742.1L263.7 734.9M256.4 647.7L263.7 654.9M256.4 654.9L263.7 647.7M256.4 678.0L263.7 685.2M256.4 685.2L263.7 678.0M256.4 593.4L263.7 600.6M256.4 600.6L263.7 593.4M256.4 689.7L263.7 696.9M256.4 696.9L263.7 689.7M256.4 782.4L263.7 789.6M256.4 789.6L263.7 782.4M256.4 676.0L263.7 683.2M256.4 683.2L263.7 676.0M296.7 677.2L303.9 684.4M296.7 684.4L303.9 677.2M296.7 594.2L303.9 601.4M296.7 601.4L303.9 594.2M296.7 582.0L303.9 589.2M296.7 589.2L303.9 582.0M296.7 654.5L303.9 661.7M296.7 661.7L303.9 654.5M296.7 717.9L303.9 725.1M296.7 725.1L303.9 717.9M296.7 601.8L303.9 609.0M296.7 609.0L303.9 601.8M296.7 661.1L303.9 668.3M296.7 668.3L303.9 661.1M296.7 672.9L303.9 680.1M296.7 680.1L303.9 672.9M296.7 732.2L303.9 739.4M296.7 739.4L303.9 732.2M296.7 757.5L303.9 764.7M296.7 764.7L303.9 757.5M296.7 641.5L303.9 648.7M296.7 648.7L303.9 641.5M296.7 774.8L303.9 782.0M296.7 782.0L303.9 774.8M296.7 752.7L303.9 759.9M296.7 759.9L303.9 752.7M296.7 666.3L303.9 673.5M296.7 673.5L303.9 666.3M296.7 598.0L303.9 605.2M296.7 605.2L303.9 598.0M296.7 728.5L303.9 735.7M296.7 735.7L303.9 728.5M296.7 645.6L303.9 652.8M296.7 652.8L303.9 645.6M337.0 650.8L344.2 658.0M337.0 658.0L344.2 650.8M337.0 587.8L344.2 595.0M337.0 595.0L344.2 587.8M337.0 660.8L344.2 668.0M337.0 668.0L344.2 660.8M337.0 618.2L344.2 625.4M337.0 625.4L344.2 618.2M337.0 700.1L344.2 707.3M337.0 707.3L344.2 700.1M337.0 667.7L344.2 674.9M337.0 674.9L344.2 667.7M337.0 652.7L344.2 659.9M337.0 659.9L344.2 652.7M337.0 630.4L344.2 637.6M337.0 637.6L344.2 630.4M337.0 753.4L344.2 760.6M337.0 760.6L344.2 753.4M337.0 685.0L344.2 692.2M337.0 692.2L344.2 685.0M337.0 595.7L344.2 602.9M337.0 602.9L344.2 595.7M337.0 679.1L344.2 686.3M337.0 686.3L344.2 679.1M377.3 616.3L384.5 623.5M377.3 623.5L384.5 616.3M377.3 625.4L384.5 632.6M377.3 632.6L384.5 625.4M377.3 715.3L384.5 722.5M377.3 722.5L384.5 715.3M377.3 618.6L384.5 625.8M377.3 625.8L384.5 618.6M377.3 675.7L384.5 682.9M377.3 682.9L384.5 675.7M417.5 648.3L424.7 655.5M417.5 655.5L424.7 648.3M417.5 579.7L424.7 586.9M417.5 586.9L424.7 579.7M457.8 697.8L465.0 705.0M457.8 705.0L465.0 697.8M498.1 625.4L505.3 632.6M498.1 632.6L505.3 625.4M538.3 729.1L545.5 736.3M538.3 736.3L545.5 729.1M578.6 621.6L585.8 628.8M578.6 628.8L585.8 621.6" stroke="#0000ff" stroke-width="1" fill="none"/><path d="M55.1 755.0L62.3 762.2M55.1 762.2L62.3 755.0M55.1 812.9L62.3 820.1M55.1 820.1L62.3 812.9M95.4 761.4L102.6 768.6M95.4 768.6L102.6 761.4M95.4 791.9L102.6 799.1M95.4 799.1L102.6 791.9M95.4 814.5L102.6 821.7M95.4 821.7L102.6 814.5M95.4 793.1L102.6 800.3M95.4 800.3L102.6 793.1M95.4 828.5L102.6 835.7M95.4 835.7L102.6 828.5M95.4 825.4L102.6 832.6M95.4 832.6L102.6 825.4M95.4 773.7L102.6 780.9M95.4 780.9L102.6 773.7M135.6 626.7L142.8 633.9M135.6 633.9L142.8 626.7M135.6 661.8L142.8 669.0M135.6 669.0L142.8 661.8M135.6 716.6L142.8 723.8M135.6 723.8L142.8 716.6M135.6 731.8L142.8 739.0M135.6 739.0L142.8 731.8M135.6 623.7L142.8 630.9M135.6 630.9L142.8 623.7M135.6 703.6L142.8 710.8M135.6 710.8L142.8 703.6M135.6 785.6L142.8 792.8M135.6 792.8L142.8 785.6M135.6 633.0L142.8 640.2M135.6 640.2L142.8 633.0M135.6 670.4L142.8 677.6M135.6 677.6L142.8 670.4M135.6 761.6L142.8 768.8M135.6 768.8L142.8 761.6M135.6 618.3L142.8 625.5M135.6 625.5L142.8 618.3M135.6 592.7L142.8 599.9M135.6 599.9L142.8 592.7M135.6 623.1L142.8 630.3M135.6 630.3L142.8 623.1M135.6 772.7L142.8 779.9M135.6 779.9L142.8 772.7M135.6 815.9L142.8 823.1M135.6 823.1L142.8 815.9M135.6 621.1L142.8 628.3M135.6 628.3L142.8 621.1M135.6 638.2L142.8 645.4M135.6 645.4L142.8 638.2M175.9 801.7L183.1 808.9M175.9 808.9L183.1 801.7M175.9 652.5L183.1 659.7M175.9 659.7L183.1 652.5M175.9 708.9L183.1 716.1M175.9 716.1L183.1 708.9M175.9 811.8L183.1 819.0M175.9 819.0L183.1 811.8M175.9 775.6L183.1 782.8M175.9 782.8L183.1 775.6M175.9 697.7L183.1 704.9M175.9 704.9L183.1 697.7M175.9 682.6L183.1 689.8M175.9 689.8L183.1 682.6M175.9 762.3L183.1 769.5M175.9 769.5L183.1 762.3M175.9 803.1L183.1 810.3M175.9 810.3L183.1 803.1M175.9 603.3L183.1 610.5M175.9 610.5L183.1 603.3M175.9 690.3L183.1 697.5M175.9 697.5L183.1 690.3M175.9 640.5L183.1 647.7M175.9 647.7L183.1 640.5M175.9 668.5L183.1 675.7M175.9 675.7L183.1 668.5M175.9 681.6L183.1 688.8M175.9 688.8L183.1 681.6M175.9 785.1L183.1 792.3M175.9 792.3L183.1 785.1M216.2 727.4L223.4 734.6M216.2 734.6L223.4 727.4M216.2 752.4L223.4 759.6M216.2 759.6L223.4 752.4M216.2 736.9L223.4 744.1M216.2 744.1L223.4 736.9M216.2 698.6L223.4 705.8M216.2 705.8L223.4 698.6M216.2 784.6L223.4 791.8M216.2 791.8L223.4 784.6M216.2 648.7L223.4 655.9M216.2 655.9L223.4 648.7M216.2 701.0L223.4 708.2M216.2 708.2L223.4 701.0M216.2 809.2L223.4 816.4M216.2 816.4L223.4 809.2M216.2 696.5L223.4 703.7M216.2 703.7L223.4 696.5M216.2 635.5L223.4 642.7M216.2 642.7L223.4 635.5M216.2 631.6L223.4 638.8M216.2 638.8L223.4 631.6M216.2 819.2L223.4 826.4M216.2 826.4L223.4 819.2M216.2 716.3L223.4 723.5M216.2 723.5L223.4 716.3M216.2 734.3L223.4 741.5M216.2 741.5L223.4 734.3M216.2 615.6L223.4 622.8M216.2 622.8L223.4 615.6M216.2 751.5L223.4 758.7M216.2 758.7L223.4 751.5M216.2 644.9L223.4 652.1M216.2 652.1L223.4 644.9M216.2 738.2L223.4 745.4M216.2 745.4L223.4 738.2M216.2 568.3L223.4 575.5M216.2 575.5L223.4 568.3M216.2 619.3L223.4 626.5M216.2 626.5L223.4 619.3M256.4 656.7L263.7 663.9M256.4 663.9L263.7 656.7M256.4 691.0L263.7 698.2M256.4 698.2L263.7 691.0M256.4 705.8L263.7 713.0M256.4 713.0L263.7 705.8M256.4 614.7L263.7 621.9M256.4 621.9L263.7 614.7M256.4 748.9L263.7 756.1M256.4 756.1L263.7 748.9M256.4 725.9L263.7 733.1M256.4 733.1L263.7 725.9M256.4 640.8L263.7 648.0M256.4 648.0L263.7 640.8M256.4 662.9L263.7 670.1M256.4 670.1L263.7 662.9M256.4 736.1L263.7 743.3M256.4 743.3L263.7 736.1M296.7 646.4L303.9 653.6M296.7 653.6L303.9 646.4M296.7 759.7L303.9 766.9M296.7 766.9L303.9 759.7M296.7 738.0L303.9 745.2M296.7 745.2L303.9 738.0M296.7 716.2L303.9 723.4M296.7 723.4L303.9 716.2M296.7 659.1L303.9 666.3M296.7 666.3L303.9 659.1M296.7 617.0L303.9 624.2M296.7 624.2L303.9 617.0M296.7 638.6L303.9 645.8M296.7 645.8L303.9 638.6M296.7 666.9L303.9 674.1M296.7 674.1L303.9 666.9M296.7 724.8L303.9 732.0M296.7 732.0L303.9 724.8M337.0 615.8L344.2 623.0M337.0 623.0L344.2 615.8M337.0 615.2L344.2 622.4M337.0 622.4L344.2 615.2M337.0 725.2L344.2 732.4M337.0 732.4L344.2 725.2M337.0 531.7L344.2 538.9M337.0 538.9L344.2 531.7M337.0 773.2L344.2 780.5M337.0 780.5L344.2 773.2M337.0 716.1L344.2 723.3M337.0 723.3L344.2 716.1M337.0 605.6L344.2 612.8M337.0 612.8L344.2 605.6M337.0 635.6L344.2 642.8M337.0 642.8L344.2 635.6M377.3 701.6L384.5 708.8M377.3 708.8L384.5 701.6M377.3 647.5L384.5 654.7M377.3 654.7L384.5 647.5M377.3 658.9L384.5 666.1M377.3 666.1L384.5 658.9M417.5 635.3L424.7 642.5M417.5 642.5L424.7 635.3M417.5 630.8L424.7 638.0M417.5 638.0L424.7 630.8M417.5 738.2L424.7 745.4M417.5 745.4L424.7 738.2M457.8 582.0L465.0 589.2M457.8 589.2L465.0 582.0M457.8 665.0L465.0 672.2M457.8 672.2L465.0 665.0M457.8 623.1L465.0 630.3M457.8 630.3L465.0 623.1M498.1 727.5L505.3 734.7M498.1 734.7L505.3 727.5" stroke="#ff0000" stroke-width="1" fill="none"/><path d="M95.4 818.8L102.6 826.0M95.4 826.0L102.6 818.8M95.4 799.6L102.6 806.8M95.4 806.8L102.6 799.6M95.4 787.0L102.6 794.2M95.4 794.2L102.6 787.0M95.4 762.8L102.6 770.0M95.4 770.0L102.6 762.8M95.4 823.2L102.6 830.4M95.4 830.4L102.6 823.2M95.4 754.7L102.6 761.9M95.4 761.9L102.6 754.7M95.4 784.1L102.6 791.3M95.4 791.3L102.6 784.1M135.6 779.5L142.8 786.7M135.6 786.7L142.8 779.5M135.6 826.2L142.8 833.4M135.6 833.4L142.8 826.2M135.6 680.1L142.8 687.3M135.6 687.3L142.8 680.1M135.6 822.4L142.8 829.6M135.6 829.6L142.8 822.4M135.6 817.2L142.8 824.4M135.6 824.4L142.8 817.2M135.6 738.3L142.8 745.5M135.6 745.5L142.8 738.3M135.6 631.2L142.8 638.4M135.6 638.4L142.8 631.2M135.6 644.3L142.8 651.5M135.6 651.5L142.8 644.3M135.6 812.7L142.8 819.9M135.6 819.9L142.8 812.7M135.6 754.8L142.8 762.0M135.6 762.0L142.8 754.8M135.6 649.1L142.8 656.3M135.6 656.3L142.8 649.1M135.6 688.6L142.8 695.8M135.6 695.8L142.8 688.6M135.6 773.6L142.8 780.8M135.6 780.8L142.8 773.6M135.6 692.3L142.8 699.5M135.6 699.5L142.8 692.3M135.6 620.0L142.8 627.2M135.6 627.2L142.8 620.0M135.6 663.7L142.8 670.9M135.6 670.9L142.8 663.7M135.6 676.1L142.8 683.3M135.6 683.3L142.8 676.1M135.6 704.4L142.8 711.6M135.6 711.6L142.8 704.4M135.6 749.3L142.8 756.5M135.6 756.5L142.8 749.3M135.6 797.7L142.8 804.9M135.6 804.9L142.8 797.7M135.6 616.7L142.8 623.9M135.6 623.9L142.8 616.7M135.6 804.0L142.8 811.2M135.6 811.2L142.8 804.0M135.6 647.4L142.8 654.6M135.6 654.6L142.8 647.4M135.6 819.2L142.8 826.4M135.6 826.4L142.8 819.2M135.6 681.7L142.8 688.9M135.6 688.9L142.8 681.7M135.6 610.9L142.8 618.1M135.6 618.1L142.8 610.9M135.6 642.6L142.8 649.8M135.6 649.8L142.8 642.6M135.6 729.0L142.8 736.2M135.6 736.2L142.8 729.0M135.6 650.2L142.8 657.4M135.6 657.4L142.8 650.2M135.6 809.9L142.8 817.1M135.6 817.1L142.8 809.9M135.6 789.9L142.8 797.1M135.6 797.1L142.8 789.9M135.6 654.8L142.8 662.0M135.6 662.0L142.8 654.8M135.6 771.0L142.8 778.2M135.6 778.2L142.8 771.0M135.6 746.6L142.8 753.8M135.6 753.8L142.8 746.6M135.6 646.2L142.8 653.4M135.6 653.4L142.8 646.2M135.6 775.4L142.8 782.6M135.6 782.6L142.8 775.4M135.6 685.5L142.8 692.7M135.6 692.7L142.8 685.5M135.6 661.9L142.8 669.1M135.6 669.1L142.8 661.9M175.9 742.6L183.1 749.8M175.9 749.8L183.1 742.6M175.9 677.4L183.1 684.6M175.9 684.6L183.1 677.4M175.9 695.7L183.1 702.9M175.9 702.9L183.1 695.7M175.9 821.1L183.1 828.3M175.9 828.3L183.1 821.1M175.9 801.7L183.1 808.9M175.9 808.9L183.1 801.7M175.9 783.0L183.1 790.2M175.9 790.2L183.1 783.0M175.9 616.3L183.1 623.5M175.9 623.5L183.1 616.3M175.9 643.1L183.1 650.3M175.9 650.3L183.1 643.1M175.9 768.3L183.1 775.5M175.9 775.5L183.1 768.3M175.9 645.8L183.1 653.0M175.9 653.0L183.1 645.8M175.9 705.1L183.1 712.3M175.9 712.3L183.1 705.1M175.9 805.0L183.1 812.2M175.9 812.2L183.1 805.0M175.9 611.7L183.1 618.9M175.9 618.9L183.1 611.7M175.9 683.7L183.1 690.9M175.9 690.9L183.1 683.7M175.9 680.1L183.1 687.3M175.9 687.3L183.1 680.1M175.9 577.4L183.1 584.6M175.9 584.6L183.1 577.4M175.9 567.9L183.1 575.1M175.9 575.1L183.1 567.9M175.9 816.6L183.1 823.8M175.9 823.8L183.1 816.6M175.9 725.2L183.1 732.4M175.9 732.4L183.1 725.2M175.9 722.0L183.1 729.2M175.9 729.2L183.1 722.0M175.9 787.6L183.1 794.8M175.9 794.8L183.1 787.6M175.9 696.9L183.1 704.1M175.9 704.1L183.1 696.9M175.9 670.2L183.1 677.4M175.9 677.4L183.1 670.2M175.9 764.1L183.1 771.3M175.9 771.3L183.1 764.1M175.9 667.7L183.1 674.9M175.9 674.9L183.1 667.7M175.9 654.8L183.1 662.0M175.9 662.0L183.1 654.8M175.9 685.0L183.1 692.2M175.9 692.2L183.1 685.0M175.9 743.6L183.1 750.8M175.9 750.8L183.1 743.6M175.9 707.4L183.1 714.6M175.9 714.6L183.1 707.4M175.9 606.4L183.1 613.6M175.9 613.6L183.1 606.4M175.9 731.6L183.1 738.8M175.9 738.8L183.1 731.6M216.2 583.2L223.4 590.4M216.2 590.4L223.4 583.2M216.2 645.9L223.4 653.1M216.2 653.1L223.4 645.9M216.2 654.6L223.4 661.8M216.2 661.8L223.4 654.6M216.2 674.5L223.4 681.7M216.2 681.7L223.4 674.5M216.2 665.2L223.4 672.4M216.2 672.4L223.4 665.2M216.2 663.6L223.4 670.8M216.2 670.8L223.4 663.6M216.2 635.0L223.4 642.2M216.2 642.2L223.4 635.0M216.2 692.8L223.4 700.0M216.2 700.0L223.4 692.8M216.2 553.0L223.4 560.2M216.2 560.2L223.4 553.0M216.2 799.2L223.4 806.4M216.2 806.4L223.4 799.2M216.2 627.5L223.4 634.7M216.2 634.7L223.4 627.5M216.2 702.9L223.4 710.1M216.2 710.1L223.4 702.9M216.2 658.6L223.4 665.8M216.2 665.8L223.4 658.6M216.2 706.6L223.4 713.8M216.2 713.8L223.4 706.6M216.2 731.3L223.4 738.5M216.2 738.5L223.4 731.3M216.2 680.6L223.4 687.8M216.2 687.8L223.4 680.6M216.2 709.4L223.4 716.6M216.2 716.6L223.4 709.4M216.2 655.5L223.4 662.7M216.2 662.7L223.4 655.5M216.2 718.1L223.4 725.3M216.2 725.3L223.4 718.1M216.2 726.8L223.4 734.0M216.2 734.0L223.4 726.8M216.2 650.5L223.4 657.7M216.2 657.7L223.4 650.5M216.2 661.9L223.4 669.1M216.2 669.1L223.4 661.9M216.2 608.2L223.4 615.4M216.2 615.4L223.4 608.2M216.2 685.5L223.4 692.7M216.2 692.7L223.4 685.5M216.2 678.0L223.4 685.2M216.2 685.2L223.4 678.0M216.2 631.7L223.4 638.9M216.2 638.9L223.4 631.7M216.2 746.1L223.4 753.3M216.2 753.3L223.4 746.1M216.2 700.3L223.4 707.5M216.2 707.5L223.4 700.3M216.2 819.0L223.4 826.2M216.2 826.2L223.4 819.0M256.4 607.8L263.7 615.0M256.4 615.0L263.7 607.8M256.4 743.7L263.7 750.9M256.4 750.9L263.7 743.7M256.4 707.7L263.7 714.9M256.4 714.9L263.7 707.7M256.4 683.4L263.7 690.6M256.4 690.6L263.7 683.4M256.4 720.8L263.7 728.0M256.4 728.0L263.7 720.8M256.4 638.6L263.7 645.8M256.4 645.8L263.7 638.6M256.4 702.3L263.7 709.5M256.4 709.5L263.7 702.3M256.4 697.7L263.7 704.9M256.4 704.9L263.7 697.7M256.4 660.2L263.7 667.4M256.4 667.4L263.7 660.2M256.4 712.6L263.7 719.8M256.4 719.8L263.7 712.6M256.4 633.9L263.7 641.1M256.4 641.1L263.7 633.9M256.4 619.3L263.7 626.5M256.4 626.5L263.7 619.3M256.4 729.6L263.7 736.8M256.4 736.8L263.7 729.6M256.4 630.3L263.7 637.5M256.4 637.5L263.7 630.3M256.4 635.2L263.7 642.4M256.4 642.4L263.7 635.2M256.4 692.9L263.7 700.1M256.4 700.1L263.7 692.9M256.4 667.9L263.7 675.1M256.4 675.1L263.7 667.9M296.7 630.8L303.9 638.0M296.7 638.0L303.9 630.8M296.7 610.2L303.9 617.4M296.7 617.4L303.9 610.2M296.7 694.7L303.9 701.9M296.7 701.9L303.9 694.7M296.7 682.6L303.9 689.8M296.7 689.8L303.9 682.6M296.7 710.2L303.9 717.4M296.7 717.4L303.9 710.2M296.7 691.4L303.9 698.6M296.7 698.6L303.9 691.4M296.7 737.9L303.9 745.1M296.7 745.1L303.9 737.9M296.7 662.9L303.9 670.1M296.7 670.1L303.9 662.9M296.7 746.8L303.9 754.0M296.7 754.0L303.9 746.8M296.7 583.5L303.9 590.7M296.7 590.7L303.9 583.5M296.7 715.4L303.9 722.6M296.7 722.6L303.9 715.4M296.7 649.1L303.9 656.3M296.7 656.3L303.9 649.1M296.7 585.8L303.9 593.0M296.7 593.0L303.9 585.8M296.7 724.7L303.9 731.9M296.7 731.9L303.9 724.7M296.7 699.7L303.9 706.9M296.7 706.9L303.9 699.7M296.7 589.6L303.9 596.8M296.7 596.8L303.9 589.6M296.7 753.6L303.9 760.8M296.7 760.8L303.9 753.6M337.0 601.8L344.2 609.0M337.0 609.0L344.2 601.8M337.0 742.8L344.2 750.0M337.0 750.0L344.2 742.8M337.0 664.9L344.2 672.1M337.0 672.1L344.2 664.9M337.0 672.0L344.2 679.2M337.0 679.2L344.2 672.0M337.0 641.7L344.2 648.9M337.0 648.9L344.2 641.7M337.0 625.0L344.2 632.2M337.0 632.2L344.2 625.0M337.0 589.6L344.2 596.8M337.0 596.8L344.2 589.6M337.0 640.7L344.2 647.9M337.0 647.9L344.2 640.7M337.0 645.3L344.2 652.5M337.0 652.5L344.2 645.3M337.0 592.8L344.2 600.0M337.0 600.0L344.2 592.8M337.0 688.3L344.2 695.5M337.0 695.5L344.2 688.3M337.0 737.4L344.2 744.6M337.0 744.6L344.2 737.4M377.3 670.4L384.5 677.6M377.3 677.6L384.5 670.4M377.3 645.2L384.5 652.4M377.3 652.4L384.5 645.2M377.3 722.2L384.5 729.4M377.3 729.4L384.5 722.2M377.3 707.7L384.5 714.9M377.3 714.9L384.5 707.7M417.5 652.9L424.7 660.1M417.5 660.1L424.7 652.9M457.8 614.8L465.0 622.0M457.8 622.0L465.0 614.8M498.1 676.5L505.3 683.7M498.1 683.7L505.3 676.5M538.3 648.3L545.5 655.5M538.3 655.5L545.5 648.3M578.6 729.1L585.8 736.3M578.6 736.3L585.8 729.1" stroke="#0000ff" stroke-width="1" fill="none"/><line x1="59" y1="780.5" x2="629.6" y2="563.4" stroke="#d95319" stroke-width="1.1"/><line x1="59" y1="783.5" x2="629.6" y2="577.3" stroke="#0000ff" stroke-width="1.2"/><text x="452.8" y="469" font-size="15.7" fill="#000">Spearman correlation (<tspan font-family="Liberation Mono" fill-opacity="0.72">p-value</tspan>)</text><text x="452.8" y="487.8" font-size="15.7" fill="#0000ff">RCP54-CMIP5: 0.56 (<tspan font-family="Liberation Mono" fill-opacity="0.72">&lt;0.05</tspan>)</text><text x="452.8" y="506.6" font-size="15.7" fill="#ff0000">RCP85-CMIP5: 0.59 (<tspan font-family="Liberation Mono" fill-opacity="0.72">&lt;0.05</tspan>)</text><path d="M56.3 897.5V1279.7H661.9" stroke="#000" stroke-width="2.4" fill="none" stroke-linejoin="miter"/><path d="M56.3 1279.7h7M56.3 1241.6h7M56.3 1203.5h7M56.3 1165.4h7M56.3 1127.3h7M56.3 1089.2h7M56.3 1051.1h7M56.3 1013.0h7M56.3 974.9h7M56.3 936.8h7M56.3 898.7h7M96.6 1279.7v-7M177.2 1279.7v-7M257.8 1279.7v-7M338.3 1279.7v-7M418.9 1279.7v-7M499.5 1279.7v-7M580.1 1279.7v-7M660.6 1279.7v-7" stroke="#000" stroke-width="2.4" fill="none"/><text x="49.6" y="1286.0" text-anchor="end" font-size="17.5">30</text><text x="49.6" y="1247.9" text-anchor="end" font-size="17.5">35</text><text x="49.6" y="1209.8" text-anchor="end" font-size="17.5">40</text><text x="49.6" y="1171.7" text-anchor="end" font-size="17.5">45</text><text x="49.6" y="1133.6" text-anchor="end" font-size="17.5">50</text><text x="49.6" y="1095.5" text-anchor="end" font-size="17.5">55</text><text x="49.6" y="1057.4" text-anchor="end" font-size="17.5">60</text><text x="49.6" y="1019.3" text-anchor="end" font-size="17.5">65</text><text x="49.6" y="981.2" text-anchor="end" font-size="17.5">70</text><text x="49.6" y="943.1" text-anchor="end" font-size="17.5">75</text><text x="49.6" y="905.0" text-anchor="end" font-size="17.5">80</text><text x="96.6" y="1303.7" text-anchor="middle" font-size="17.5">2</text><text x="177.2" y="1303.7" text-anchor="middle" font-size="17.5">4</text><text x="257.8" y="1303.7" text-anchor="middle" font-size="17.5">6</text><text x="338.3" y="1303.7" text-anchor="middle" font-size="17.5">8</text><text x="418.9" y="1303.7" text-anchor="middle" font-size="17.5">10</text><text x="499.5" y="1303.7" text-anchor="middle" font-size="17.5">12</text><text x="580.1" y="1303.7" text-anchor="middle" font-size="17.5">14</text><text x="660.6" y="1303.7" text-anchor="middle" font-size="17.5">16</text><text x="287.0" y="1325.4" font-size="19" textLength="144.5" lengthAdjust="spacing">TC lifetime (day)</text><g transform="translate(18.1,1147.6) rotate(-90)" font-size="20"><text x="0" y="0">LMI</text><text x="42.9" y="0">(m</text><text x="65.9" y="-10" font-size="11.5">-1</text><text x="88.0" y="0">s</text><text x="98.1" y="-10" font-size="11.5">-1</text><text x="110.3" y="0">)</text></g><text x="659.0" y="1266.5" text-anchor="end" font-size="25" textLength="34" lengthAdjust="spacing">(c)</text><path d="M52.0 1028.2H61.0M56.5 1023.7V1032.7M52.0 1173.0H61.0M56.5 1168.5V1177.5M52.0 1218.7H61.0M56.5 1214.2V1223.2M52.0 1240.8H61.0M56.5 1236.3V1245.3M52.0 1264.5H61.0M56.5 1260.0V1269.0M92.0 1050.3H101.0M96.5 1045.8V1054.8M92.0 1073.2H101.0M96.5 1068.7V1077.7M92.0 1119.7H101.0M96.5 1115.2V1124.2M92.0 1141.0H101.0M96.5 1136.5V1145.5M92.0 1146.4H101.0M96.5 1141.9V1150.9M92.0 1154.7H101.0M96.5 1150.2V1159.2M92.0 1182.9H101.0M96.5 1178.4V1187.4M92.0 1194.4H101.0M96.5 1189.9V1198.9M92.0 1275.4H101.0M96.5 1270.9V1279.9M92.0 1267.4H101.0M96.5 1262.9V1271.9M92.0 1258.2H101.0M96.5 1253.7V1262.7M92.0 1255.4H101.0M96.5 1250.9V1259.9M92.0 1244.4H101.0M96.5 1239.9V1248.9M92.0 1240.4H101.0M96.5 1235.9V1244.9M92.0 1236.6H101.0M96.5 1232.1V1241.1M92.0 1228.2H101.0M96.5 1223.7V1232.7M92.0 1220.3H101.0M96.5 1215.8V1224.8M92.0 1214.8H101.0M96.5 1210.3V1219.3M132.0 1277.4H141.0M136.5 1272.9V1281.9M132.0 1275.7H141.0M136.5 1271.2V1280.2M132.0 1270.0H141.0M136.5 1265.5V1274.5M132.0 1268.1H141.0M136.5 1263.6V1272.6M132.0 1263.6H141.0M136.5 1259.1V1268.1M132.0 1260.2H141.0M136.5 1255.7V1264.7M132.0 1257.5H141.0M136.5 1253.0V1262.0M132.0 1254.2H141.0M136.5 1249.7V1258.7M132.0 1249.3H141.0M136.5 1244.8V1253.8M132.0 1245.3H141.0M136.5 1240.8V1249.8M132.0 1242.4H141.0M136.5 1237.9V1246.9M132.0 1239.7H141.0M136.5 1235.2V1244.2M132.0 1237.2H141.0M136.5 1232.7V1241.7M132.0 1234.5H141.0M136.5 1230.0V1239.0M132.0 1227.9H141.0M136.5 1223.4V1232.4M132.0 1225.4H141.0M136.5 1220.9V1229.9M132.0 1221.5H141.0M136.5 1217.0V1226.0M132.0 1219.7H141.0M136.5 1215.2V1224.2M132.0 1215.3H141.0M136.5 1210.8V1219.8M132.0 1210.6H141.0M136.5 1206.1V1215.1M132.0 1207.6H141.0M136.5 1203.1V1212.1M132.0 1205.0H141.0M136.5 1200.5V1209.5M132.0 1202.5H141.0M136.5 1198.0V1207.0M132.0 1198.7H141.0M136.5 1194.2V1203.2M132.0 1193.6H141.0M136.5 1189.1V1198.1M132.0 1191.9H141.0M136.5 1187.4V1196.4M132.0 1187.4H141.0M136.5 1182.9V1191.9M132.0 1184.2H141.0M136.5 1179.7V1188.7M132.0 1179.7H141.0M136.5 1175.2V1184.2M132.0 1176.6H141.0M136.5 1172.1V1181.1M132.0 1174.9H141.0M136.5 1170.4V1179.4M132.0 1172.5H141.0M136.5 1168.0V1177.0M132.0 1168.1H141.0M136.5 1163.6V1172.6M132.0 1164.1H141.0M136.5 1159.6V1168.6M132.0 1160.1H141.0M136.5 1155.6V1164.6M132.0 1155.8H141.0M136.5 1151.3V1160.3M132.0 1152.1H141.0M136.5 1147.6V1156.6M132.0 1151.6H141.0M136.5 1147.1V1156.1M132.0 1145.4H141.0M136.5 1140.9V1149.9M132.0 1142.0H141.0M136.5 1137.5V1146.5M132.0 1138.3H141.0M136.5 1133.8V1142.8M132.0 1135.9H141.0M136.5 1131.4V1140.4M132.0 1133.5H141.0M136.5 1129.0V1138.0M132.0 1128.0H141.0M136.5 1123.5V1132.5M132.0 1124.7H141.0M136.5 1120.2V1129.2M132.0 1121.7H141.0M136.5 1117.2V1126.2M132.0 1117.4H141.0M136.5 1112.9V1121.9M132.0 1115.9H141.0M136.5 1111.4V1120.4M132.0 1113.4H141.0M136.5 1108.9V1117.9M132.0 1108.3H141.0M136.5 1103.8V1112.8M132.0 1104.0H141.0M136.5 1099.5V1108.5M132.0 1102.6H141.0M136.5 1098.1V1107.1M132.0 1097.2H141.0M136.5 1092.7V1101.7M132.0 1093.1H141.0M136.5 1088.6V1097.6M132.0 1092.1H141.0M136.5 1087.6V1096.6M132.0 1087.4H141.0M136.5 1082.9V1091.9M132.0 1083.6H141.0M136.5 1079.1V1088.1M132.0 1080.9H141.0M136.5 1076.4V1085.4M132.0 1078.4H141.0M136.5 1073.9V1082.9M132.0 1074.7H141.0M136.5 1070.2V1079.2M132.0 1069.6H141.0M136.5 1065.1V1074.1M132.0 1066.0H141.0M136.5 1061.5V1070.5M132.0 1063.6H141.0M136.5 1059.1V1068.1M132.0 1061.5H141.0M136.5 1057.0V1066.0M132.0 1055.5H141.0M136.5 1051.0V1060.0M132.0 1052.2H141.0M136.5 1047.7V1056.7M132.0 1050.6H141.0M136.5 1046.1V1055.1M132.0 1045.9H141.0M136.5 1041.4V1050.4M132.0 1041.4H141.0M136.5 1036.9V1045.9M132.0 1038.0H141.0M136.5 1033.5V1042.5M132.0 1035.8H141.0M136.5 1031.3V1040.3M132.0 1032.5H141.0M136.5 1028.0V1037.0M132.0 1028.6H141.0M136.5 1024.1V1033.1M132.0 1026.5H141.0M136.5 1022.0V1031.0M132.0 1023.1H141.0M136.5 1018.6V1027.6M132.0 1019.6H141.0M136.5 1015.1V1024.1M173.0 1013.8H182.0M177.5 1009.3V1018.3M173.0 1274.3H182.0M177.5 1269.8V1278.8M173.0 1272.0H182.0M177.5 1267.5V1276.5M173.0 1267.9H182.0M177.5 1263.4V1272.4M173.0 1265.1H182.0M177.5 1260.6V1269.6M173.0 1261.3H182.0M177.5 1256.8V1265.8M173.0 1259.2H182.0M177.5 1254.7V1263.7M173.0 1256.1H182.0M177.5 1251.6V1260.6M173.0 1249.5H182.0M177.5 1245.0V1254.0M173.0 1248.2H182.0M177.5 1243.7V1252.7M173.0 1245.7H182.0M177.5 1241.2V1250.2M173.0 1240.5H182.0M177.5 1236.0V1245.0M173.0 1236.6H182.0M177.5 1232.1V1241.1M173.0 1235.4H182.0M177.5 1230.9V1239.9M173.0 1230.5H182.0M177.5 1226.0V1235.0M173.0 1227.9H182.0M177.5 1223.4V1232.4M173.0 1224.0H182.0M177.5 1219.5V1228.5M173.0 1222.3H182.0M177.5 1217.8V1226.8M173.0 1218.8H182.0M177.5 1214.3V1223.3M173.0 1212.2H182.0M177.5 1207.7V1216.7M173.0 1209.2H182.0M177.5 1204.7V1213.7M173.0 1207.1H182.0M177.5 1202.6V1211.6M173.0 1203.4H182.0M177.5 1198.9V1207.9M173.0 1201.1H182.0M177.5 1196.6V1205.6M173.0 1195.9H182.0M177.5 1191.4V1200.4M173.0 1193.7H182.0M177.5 1189.2V1198.2M173.0 1188.6H182.0M177.5 1184.1V1193.1M173.0 1185.8H182.0M177.5 1181.3V1190.3M173.0 1182.2H182.0M177.5 1177.7V1186.7M173.0 1178.3H182.0M177.5 1173.8V1182.8M173.0 1177.3H182.0M177.5 1172.8V1181.8M173.0 1174.7H182.0M177.5 1170.2V1179.2M173.0 1170.7H182.0M177.5 1166.2V1175.2M173.0 1167.4H182.0M177.5 1162.9V1171.9M173.0 1164.3H182.0M177.5 1159.8V1168.8M173.0 1161.0H182.0M177.5 1156.5V1165.5M173.0 1155.9H182.0M177.5 1151.4V1160.4M173.0 1151.5H182.0M177.5 1147.0V1156.0M173.0 1149.5H182.0M177.5 1145.0V1154.0M173.0 1144.4H182.0M177.5 1139.9V1148.9M173.0 1141.1H182.0M177.5 1136.6V1145.6M173.0 1140.6H182.0M177.5 1136.1V1145.1M173.0 1135.4H182.0M177.5 1130.9V1139.9M173.0 1132.7H182.0M177.5 1128.2V1137.2M173.0 1130.2H182.0M177.5 1125.7V1134.7M173.0 1124.0H182.0M177.5 1119.5V1128.5M173.0 1123.0H182.0M177.5 1118.5V1127.5M173.0 1118.5H182.0M177.5 1114.0V1123.0M173.0 1114.9H182.0M177.5 1110.4V1119.4M173.0 1110.4H182.0M177.5 1105.9V1114.9M173.0 1108.0H182.0M177.5 1103.5V1112.5M173.0 1105.5H182.0M177.5 1101.0V1110.0M173.0 1102.0H182.0M177.5 1097.5V1106.5M173.0 1099.5H182.0M177.5 1095.0V1104.0M173.0 1093.4H182.0M177.5 1088.9V1097.9M173.0 1089.9H182.0M177.5 1085.4V1094.4M173.0 1089.2H182.0M177.5 1084.7V1093.7M173.0 1086.4H182.0M177.5 1081.9V1090.9M173.0 1082.2H182.0M177.5 1077.7V1086.7M173.0 1078.5H182.0M177.5 1074.0V1083.0M173.0 1073.3H182.0M177.5 1068.8V1077.8M173.0 1069.9H182.0M177.5 1065.4V1074.4M173.0 1066.7H182.0M177.5 1062.2V1071.2M173.0 1066.0H182.0M177.5 1061.5V1070.5M173.0 1060.1H182.0M177.5 1055.6V1064.6M173.0 1056.9H182.0M177.5 1052.4V1061.4M173.0 1053.8H182.0M177.5 1049.3V1058.3M173.0 1049.2H182.0M177.5 1044.7V1053.7M173.0 1049.0H182.0M177.5 1044.5V1053.5M213.0 995.5H222.0M217.5 991.0V1000.0M213.0 1276.0H222.0M217.5 1271.5V1280.5M213.0 1269.0H222.0M217.5 1264.5V1273.5M213.0 1263.8H222.0M217.5 1259.3V1268.3M213.0 1260.6H222.0M217.5 1256.1V1265.1M213.0 1257.8H222.0M217.5 1253.3V1262.3M213.0 1252.2H222.0M217.5 1247.7V1256.7M213.0 1247.1H222.0M217.5 1242.6V1251.6M213.0 1245.6H222.0M217.5 1241.1V1250.1M213.0 1240.2H222.0M217.5 1235.7V1244.7M213.0 1236.2H222.0M217.5 1231.7V1240.7M213.0 1232.4H222.0M217.5 1227.9V1236.9M213.0 1226.4H222.0M217.5 1221.9V1230.9M213.0 1223.4H222.0M217.5 1218.9V1227.9M213.0 1218.7H222.0M217.5 1214.2V1223.2M213.0 1214.8H222.0M217.5 1210.3V1219.3M213.0 1208.1H222.0M217.5 1203.6V1212.6M213.0 1206.6H222.0M217.5 1202.1V1211.1M213.0 1199.1H222.0M217.5 1194.6V1203.6M213.0 1197.0H222.0M217.5 1192.5V1201.5M213.0 1193.4H222.0M217.5 1188.9V1197.9M213.0 1185.1H222.0M217.5 1180.6V1189.6M213.0 1183.8H222.0M217.5 1179.3V1188.3M213.0 1176.3H222.0M217.5 1171.8V1180.8M213.0 1172.2H222.0M217.5 1167.7V1176.7M213.0 1167.8H222.0M217.5 1163.3V1172.3M213.0 1166.7H222.0M217.5 1162.2V1171.2M213.0 1160.9H222.0M217.5 1156.4V1165.4M213.0 1158.1H222.0M217.5 1153.6V1162.6M213.0 1150.1H222.0M217.5 1145.6V1154.6M213.0 1146.1H222.0M217.5 1141.6V1150.6M213.0 1142.7H222.0M217.5 1138.2V1147.2M213.0 1139.1H222.0M217.5 1134.6V1143.6M213.0 1135.2H222.0M217.5 1130.7V1139.7M213.0 1128.7H222.0M217.5 1124.2V1133.2M213.0 1125.8H222.0M217.5 1121.3V1130.3M213.0 1120.8H222.0M217.5 1116.3V1125.3M213.0 1118.5H222.0M217.5 1114.0V1123.0M213.0 1113.8H222.0M217.5 1109.3V1118.3M213.0 1110.2H222.0M217.5 1105.7V1114.7M213.0 1102.9H222.0M217.5 1098.4V1107.4M213.0 1099.2H222.0M217.5 1094.7V1103.7M213.0 1096.6H222.0M217.5 1092.1V1101.1M213.0 1089.1H222.0M217.5 1084.6V1093.6M213.0 1087.4H222.0M217.5 1082.9V1091.9M213.0 1082.4H222.0M217.5 1077.9V1086.9M213.0 1079.1H222.0M217.5 1074.6V1083.6M213.0 1074.2H222.0M217.5 1069.7V1078.7M213.0 1067.4H222.0M217.5 1062.9V1071.9M213.0 1065.2H222.0M217.5 1060.7V1069.7M213.0 1061.5H222.0M217.5 1057.0V1066.0M213.0 1055.8H222.0M217.5 1051.3V1060.3M213.0 1052.1H222.0M217.5 1047.6V1056.6M213.0 1045.2H222.0M217.5 1040.7V1049.7M213.0 1044.3H222.0M217.5 1039.8V1048.8M213.0 1036.1H222.0M217.5 1031.6V1040.6M213.0 1035.8H222.0M217.5 1031.3V1040.3M213.0 1027.7H222.0M217.5 1023.2V1032.2M213.0 1024.4H222.0M217.5 1019.9V1028.9M253.0 997.0H262.0M257.5 992.5V1001.5M253.0 1004.6H262.0M257.5 1000.1V1009.1M253.0 1012.2H262.0M257.5 1007.7V1016.7M253.0 1205.7H262.0M257.5 1201.2V1210.2M253.0 1200.8H262.0M257.5 1196.3V1205.3M253.0 1197.7H262.0M257.5 1193.2V1202.2M253.0 1193.9H262.0M257.5 1189.4V1198.4M253.0 1190.3H262.0M257.5 1185.8V1194.8M253.0 1185.7H262.0M257.5 1181.2V1190.2M253.0 1179.4H262.0M257.5 1174.9V1183.9M253.0 1175.5H262.0M257.5 1171.0V1180.0M253.0 1171.9H262.0M257.5 1167.4V1176.4M253.0 1171.3H262.0M257.5 1166.8V1175.8M253.0 1166.6H262.0M257.5 1162.1V1171.1M253.0 1160.4H262.0M257.5 1155.9V1164.9M253.0 1159.8H262.0M257.5 1155.3V1164.3M253.0 1153.3H262.0M257.5 1148.8V1157.8M253.0 1151.1H262.0M257.5 1146.6V1155.6M253.0 1144.6H262.0M257.5 1140.1V1149.1M253.0 1144.4H262.0M257.5 1139.9V1148.9M253.0 1137.5H262.0M257.5 1133.0V1142.0M253.0 1135.4H262.0M257.5 1130.9V1139.9M253.0 1132.3H262.0M257.5 1127.8V1136.8M253.0 1129.0H262.0M257.5 1124.5V1133.5M253.0 1121.9H262.0M257.5 1117.4V1126.4M253.0 1119.2H262.0M257.5 1114.7V1123.7M253.0 1116.6H262.0M257.5 1112.1V1121.1M253.0 1111.8H262.0M257.5 1107.3V1116.3M253.0 1106.1H262.0M257.5 1101.6V1110.6M253.0 1104.9H262.0M257.5 1100.4V1109.4M253.0 1099.6H262.0M257.5 1095.1V1104.1M253.0 1097.4H262.0M257.5 1092.9V1101.9M253.0 1093.4H262.0M257.5 1088.9V1097.9M253.0 1087.2H262.0M257.5 1082.7V1091.7M253.0 1083.6H262.0M257.5 1079.1V1088.1M253.0 1081.7H262.0M257.5 1077.2V1086.2M253.0 1078.3H262.0M257.5 1073.8V1082.8M253.0 1074.4H262.0M257.5 1069.9V1078.9M253.0 1068.5H262.0M257.5 1064.0V1073.0M253.0 1065.0H262.0M257.5 1060.5V1069.5M253.0 1062.0H262.0M257.5 1057.5V1066.5M253.0 1058.4H262.0M257.5 1053.9V1062.9M253.0 1052.9H262.0M257.5 1048.4V1057.4M253.0 1048.7H262.0M257.5 1044.2V1053.2M253.0 1044.4H262.0M257.5 1039.9V1048.9M253.0 1041.4H262.0M257.5 1036.9V1045.9M253.0 1039.0H262.0M257.5 1034.5V1043.5M253.0 1035.7H262.0M257.5 1031.2V1040.2M253.0 1221.0H262.0M257.5 1216.5V1225.5M253.0 1230.2H262.0M257.5 1225.7V1234.7M253.0 1243.1H262.0M257.5 1238.6V1247.6M294.0 1208.1H303.0M298.5 1203.6V1212.6M294.0 1204.6H303.0M298.5 1200.1V1209.1M294.0 1197.7H303.0M298.5 1193.2V1202.2M294.0 1196.0H303.0M298.5 1191.5V1200.5M294.0 1186.9H303.0M298.5 1182.4V1191.4M294.0 1184.1H303.0M298.5 1179.6V1188.6M294.0 1176.3H303.0M298.5 1171.8V1180.8M294.0 1171.0H303.0M298.5 1166.5V1175.5M294.0 1167.7H303.0M298.5 1163.2V1172.2M294.0 1165.0H303.0M298.5 1160.5V1169.5M294.0 1155.1H303.0M298.5 1150.6V1159.6M294.0 1152.2H303.0M298.5 1147.7V1156.7M294.0 1144.9H303.0M298.5 1140.4V1149.4M294.0 1142.9H303.0M298.5 1138.4V1147.4M294.0 1138.1H303.0M298.5 1133.6V1142.6M294.0 1129.5H303.0M298.5 1125.0V1134.0M294.0 1126.8H303.0M298.5 1122.3V1131.3M294.0 1122.6H303.0M298.5 1118.1V1127.1M294.0 1116.3H303.0M298.5 1111.8V1120.8M294.0 1110.0H303.0M298.5 1105.5V1114.5M294.0 1107.8H303.0M298.5 1103.3V1112.3M294.0 1100.0H303.0M298.5 1095.5V1104.5M294.0 1095.1H303.0M298.5 1090.6V1099.6M294.0 1089.6H303.0M298.5 1085.1V1094.1M294.0 1086.4H303.0M298.5 1081.9V1090.9M294.0 1078.1H303.0M298.5 1073.6V1082.6M294.0 1072.4H303.0M298.5 1067.9V1076.9M294.0 1067.0H303.0M298.5 1062.5V1071.5M294.0 1064.6H303.0M298.5 1060.1V1069.1M294.0 1057.4H303.0M298.5 1052.9V1061.9M294.0 1053.9H303.0M298.5 1049.4V1058.4M294.0 1046.8H303.0M298.5 1042.3V1051.3M294.0 1045.1H303.0M298.5 1040.6V1049.6M294.0 1035.7H303.0M298.5 1031.2V1040.2M294.0 1030.1H303.0M298.5 1025.6V1034.6M294.0 1027.3H303.0M298.5 1022.8V1031.8M294.0 1022.0H303.0M298.5 1017.5V1026.5M294.0 1016.7H303.0M298.5 1012.2V1021.2M294.0 1011.5H303.0M298.5 1007.0V1016.0M294.0 1008.9H303.0M298.5 1004.4V1013.4M294.0 1220.3H303.0M298.5 1215.8V1224.8M294.0 1240.8H303.0M298.5 1236.3V1245.3M294.0 1262.9H303.0M298.5 1258.4V1267.4M334.0 1045.0H343.0M338.5 1040.5V1049.5M334.0 1150.6H343.0M338.5 1146.1V1155.1M334.0 1149.3H343.0M338.5 1144.8V1153.8M334.0 1144.4H343.0M338.5 1139.9V1148.9M334.0 1139.8H343.0M338.5 1135.3V1144.3M334.0 1134.0H343.0M338.5 1129.5V1138.5M334.0 1126.0H343.0M338.5 1121.5V1130.5M334.0 1124.9H343.0M338.5 1120.4V1129.4M334.0 1119.5H343.0M338.5 1115.0V1124.0M334.0 1111.4H343.0M338.5 1106.9V1115.9M334.0 1108.9H343.0M338.5 1104.4V1113.4M334.0 1104.7H343.0M338.5 1100.2V1109.2M334.0 1096.7H343.0M338.5 1092.2V1101.2M334.0 1091.8H343.0M338.5 1087.3V1096.3M334.0 1087.0H343.0M338.5 1082.5V1091.5M334.0 1081.0H343.0M338.5 1076.5V1085.5M334.0 1079.0H343.0M338.5 1074.5V1083.5M334.0 1070.0H343.0M338.5 1065.5V1074.5M334.0 1065.7H343.0M338.5 1061.2V1070.2M334.0 1064.1H343.0M338.5 1059.6V1068.6M334.0 1058.6H343.0M338.5 1054.1V1063.1M334.0 1218.9H343.0M338.5 1214.4V1223.4M334.0 1211.4H343.0M338.5 1206.9V1215.9M334.0 1205.6H343.0M338.5 1201.1V1210.1M334.0 1199.4H343.0M338.5 1194.9V1203.9M334.0 1189.8H343.0M338.5 1185.3V1194.3M334.0 1184.4H343.0M338.5 1179.9V1188.9M334.0 1173.6H343.0M338.5 1169.1V1178.1M334.0 1164.1H343.0M338.5 1159.6V1168.6M334.0 1262.9H343.0M338.5 1258.4V1267.4M374.0 1026.0H383.0M378.5 1021.5V1030.5M374.0 1048.8H383.0M378.5 1044.3V1053.3M374.0 1067.9H383.0M378.5 1063.4V1072.4M374.0 1076.2H383.0M378.5 1071.7V1080.7M374.0 1093.0H383.0M378.5 1088.5V1097.5M374.0 1109.8H383.0M378.5 1105.3V1114.3M374.0 1115.1H383.0M378.5 1110.6V1119.6M374.0 1120.4H383.0M378.5 1115.9V1124.9M374.0 1126.5H383.0M378.5 1122.0V1131.0M374.0 1147.1H383.0M378.5 1142.6V1151.6M374.0 1150.2H383.0M378.5 1145.7V1154.7M374.0 1154.0H383.0M378.5 1149.5V1158.5M374.0 1183.7H383.0M378.5 1179.2V1188.2M374.0 1202.7H383.0M378.5 1198.2V1207.2M374.0 1250.7H383.0M378.5 1246.2V1255.2M374.0 1262.9H383.0M378.5 1258.4V1267.4M414.0 1034.3H423.0M418.5 1029.8V1038.8M414.0 1089.2H423.0M418.5 1084.7V1093.7M414.0 1134.9H423.0M418.5 1130.4V1139.4M414.0 1186.0H423.0M418.5 1181.5V1190.5M414.0 1202.0H423.0M418.5 1197.5V1206.5M455.0 1047.3H464.0M459.5 1042.8V1051.8M455.0 1059.5H464.0M459.5 1055.0V1064.0M455.0 1064.8H464.0M459.5 1060.3V1069.3M455.0 1069.4H464.0M459.5 1064.9V1073.9M455.0 1095.3H464.0M459.5 1090.8V1099.8M455.0 1096.8H464.0M459.5 1092.3V1101.3M455.0 1130.3H464.0M459.5 1125.8V1134.8M455.0 1154.0H464.0M459.5 1149.5V1158.5M455.0 1191.3H464.0M459.5 1186.8V1195.8M455.0 1220.3H464.0M459.5 1215.8V1224.8M495.0 1064.1H504.0M499.5 1059.6V1068.6M495.0 1108.2H504.0M499.5 1103.8V1112.8M495.0 1211.9H504.0M499.5 1207.4V1216.4M535.0 1099.9H544.0M539.5 1095.4V1104.4M535.0 1142.5H544.0M539.5 1138.0V1147.0M535.0 1196.6H544.0M539.5 1192.1V1201.1M576.0 1064.1H585.0M580.5 1059.6V1068.6M576.0 1122.0H585.0M580.5 1117.5V1126.5M576.0 1189.0H585.0M580.5 1184.5V1193.5M656.0 1062.5H665.0M660.5 1058.0V1067.0M656.0 1063.3H665.0M660.5 1058.8V1067.8M656.0 1093.8H665.0M660.5 1089.3V1098.3M656.0 1107.5H665.0M660.5 1103.0V1112.0" stroke="#ff0000" stroke-width="1" fill="none"/><path d="M52.0 1199.7H61.0M56.5 1195.2V1204.2M52.0 1218.0H61.0M56.5 1213.5V1222.5M52.0 1222.5H61.0M56.5 1218.0V1227.0M52.0 1227.9H61.0M56.5 1223.4V1232.4M52.0 1243.9H61.0M56.5 1239.4V1248.4M52.0 1250.7H61.0M56.5 1246.2V1255.2M52.0 1256.8H61.0M56.5 1252.3V1261.3M52.0 1262.9H61.0M56.5 1258.4V1267.4M52.0 1272.1H61.0M56.5 1267.6V1276.6M92.0 1134.2H101.0M96.5 1129.7V1138.7M92.0 1141.0H101.0M96.5 1136.5V1145.5M92.0 1173.0H101.0M96.5 1168.5V1177.5M92.0 1192.1H101.0M96.5 1187.6V1196.6M92.0 1275.1H101.0M96.5 1270.6V1279.6M92.0 1271.0H101.0M96.5 1266.5V1275.5M92.0 1264.7H101.0M96.5 1260.2V1269.2M92.0 1262.4H101.0M96.5 1257.9V1266.9M92.0 1259.0H101.0M96.5 1254.5V1263.5M92.0 1253.2H101.0M96.5 1248.7V1257.7M92.0 1251.9H101.0M96.5 1247.4V1256.4M92.0 1247.1H101.0M96.5 1242.6V1251.6M92.0 1243.0H101.0M96.5 1238.5V1247.5M92.0 1238.3H101.0M96.5 1233.8V1242.8M92.0 1234.5H101.0M96.5 1230.0V1239.0M92.0 1231.0H101.0M96.5 1226.5V1235.5M92.0 1228.3H101.0M96.5 1223.8V1232.8M92.0 1224.6H101.0M96.5 1220.1V1229.1M92.0 1221.4H101.0M96.5 1216.9V1225.9M92.0 1214.9H101.0M96.5 1210.4V1219.4M92.0 1211.7H101.0M96.5 1207.2V1216.2M92.0 1207.5H101.0M96.5 1203.0V1212.0M132.0 984.8H141.0M136.5 980.3V989.3M132.0 1005.4H141.0M136.5 1000.9V1009.9M132.0 1009.2H141.0M136.5 1004.7V1013.7M132.0 1279.1H141.0M136.5 1274.6V1283.6M132.0 1274.9H141.0M136.5 1270.4V1279.4M132.0 1270.5H141.0M136.5 1266.0V1275.0M132.0 1267.8H141.0M136.5 1263.3V1272.3M132.0 1266.0H141.0M136.5 1261.5V1270.5M132.0 1261.5H141.0M136.5 1257.0V1266.0M132.0 1256.8H141.0M136.5 1252.3V1261.3M132.0 1255.6H141.0M136.5 1251.1V1260.1M132.0 1252.5H141.0M136.5 1248.0V1257.0M132.0 1248.8H141.0M136.5 1244.3V1253.3M132.0 1244.1H141.0M136.5 1239.6V1248.6M132.0 1240.3H141.0M136.5 1235.8V1244.8M132.0 1239.3H141.0M136.5 1234.8V1243.8M132.0 1236.0H141.0M136.5 1231.5V1240.5M132.0 1232.3H141.0M136.5 1227.8V1236.8M132.0 1228.8H141.0M136.5 1224.3V1233.3M132.0 1224.8H141.0M136.5 1220.3V1229.3M132.0 1222.7H141.0M136.5 1218.2V1227.2M132.0 1218.8H141.0M136.5 1214.3V1223.3M132.0 1215.9H141.0M136.5 1211.4V1220.4M132.0 1210.0H141.0M136.5 1205.5V1214.5M132.0 1207.5H141.0M136.5 1203.0V1212.0M132.0 1206.2H141.0M136.5 1201.7V1210.7M132.0 1200.0H141.0M136.5 1195.5V1204.5M132.0 1199.6H141.0M136.5 1195.1V1204.1M132.0 1195.3H141.0M136.5 1190.8V1199.8M132.0 1190.0H141.0M136.5 1185.5V1194.5M132.0 1187.3H141.0M136.5 1182.8V1191.8M132.0 1184.2H141.0M136.5 1179.7V1188.7M132.0 1181.9H141.0M136.5 1177.4V1186.4M132.0 1179.3H141.0M136.5 1174.8V1183.8M132.0 1174.5H141.0M136.5 1170.0V1179.0M132.0 1173.0H141.0M136.5 1168.5V1177.5M132.0 1169.3H141.0M136.5 1164.8V1173.8M132.0 1165.4H141.0M136.5 1160.9V1169.9M132.0 1163.2H141.0M136.5 1158.7V1167.7M132.0 1158.7H141.0M136.5 1154.2V1163.2M132.0 1154.1H141.0M136.5 1149.6V1158.6M132.0 1151.1H141.0M136.5 1146.6V1155.6M132.0 1148.4H141.0M136.5 1143.9V1152.9M132.0 1144.6H141.0M136.5 1140.1V1149.1M132.0 1141.9H141.0M136.5 1137.4V1146.4M132.0 1139.6H141.0M136.5 1135.1V1144.1M132.0 1134.8H141.0M136.5 1130.3V1139.3M132.0 1132.1H141.0M136.5 1127.6V1136.6M132.0 1127.6H141.0M136.5 1123.1V1132.1M132.0 1123.8H141.0M136.5 1119.3V1128.3M132.0 1122.0H141.0M136.5 1117.5V1126.5M132.0 1118.2H141.0M136.5 1113.7V1122.7M132.0 1114.3H141.0M136.5 1109.8V1118.8M132.0 1112.1H141.0M136.5 1107.6V1116.6M132.0 1109.4H141.0M136.5 1104.9V1113.9M132.0 1104.4H141.0M136.5 1099.9V1108.9M132.0 1100.6H141.0M136.5 1096.1V1105.1M132.0 1097.6H141.0M136.5 1093.1V1102.1M132.0 1094.5H141.0M136.5 1090.0V1099.0M132.0 1090.7H141.0M136.5 1086.2V1095.2M132.0 1088.0H141.0M136.5 1083.5V1092.5M132.0 1084.8H141.0M136.5 1080.3V1089.3M132.0 1082.1H141.0M136.5 1077.6V1086.6M132.0 1079.2H141.0M136.5 1074.7V1083.7M132.0 1074.8H141.0M136.5 1070.3V1079.3M132.0 1073.3H141.0M136.5 1068.8V1077.8M132.0 1068.9H141.0M136.5 1064.4V1073.4M132.0 1064.3H141.0M136.5 1059.8V1068.8M132.0 1061.3H141.0M136.5 1056.8V1065.8M132.0 1058.2H141.0M136.5 1053.7V1062.7M132.0 1056.1H141.0M136.5 1051.6V1060.6M132.0 1052.2H141.0M136.5 1047.7V1056.7M132.0 1048.8H141.0M136.5 1044.3V1053.3M132.0 1044.9H141.0M136.5 1040.4V1049.4M132.0 1042.3H141.0M136.5 1037.8V1046.8M132.0 1038.1H141.0M136.5 1033.6V1042.6M132.0 1033.9H141.0M136.5 1029.4V1038.4M132.0 1033.1H141.0M136.5 1028.6V1037.6M132.0 1028.2H141.0M136.5 1023.7V1032.7M132.0 1024.5H141.0M136.5 1020.0V1029.0M132.0 1022.4H141.0M136.5 1017.9V1026.9M132.0 1018.8H141.0M136.5 1014.3V1023.3M132.0 1013.8H141.0M136.5 1009.3V1018.3M173.0 953.6H182.0M177.5 949.1V958.1M173.0 977.9H182.0M177.5 973.4V982.4M173.0 1024.4H182.0M177.5 1019.9V1028.9M173.0 1029.0H182.0M177.5 1024.5V1033.5M173.0 1039.7H182.0M177.5 1035.2V1044.2M173.0 1276.5H182.0M177.5 1272.0V1281.0M173.0 1271.7H182.0M177.5 1267.2V1276.2M173.0 1269.7H182.0M177.5 1265.2V1274.2M173.0 1264.5H182.0M177.5 1260.0V1269.0M173.0 1260.8H182.0M177.5 1256.3V1265.3M173.0 1259.0H182.0M177.5 1254.5V1263.5M173.0 1257.1H182.0M177.5 1252.6V1261.6M173.0 1252.4H182.0M177.5 1247.9V1256.9M173.0 1249.3H182.0M177.5 1244.8V1253.8M173.0 1245.5H182.0M177.5 1241.0V1250.0M173.0 1242.9H182.0M177.5 1238.4V1247.4M173.0 1239.3H182.0M177.5 1234.8V1243.8M173.0 1235.5H182.0M177.5 1231.0V1240.0M173.0 1233.3H182.0M177.5 1228.8V1237.8M173.0 1230.4H182.0M177.5 1225.9V1234.9M173.0 1225.5H182.0M177.5 1221.0V1230.0M173.0 1224.7H182.0M177.5 1220.2V1229.2M173.0 1219.9H182.0M177.5 1215.4V1224.4M173.0 1217.7H182.0M177.5 1213.2V1222.2M173.0 1213.3H182.0M177.5 1208.8V1217.8M173.0 1212.1H182.0M177.5 1207.6V1216.6M173.0 1206.2H182.0M177.5 1201.7V1210.7M173.0 1205.0H182.0M177.5 1200.5V1209.5M173.0 1202.7H182.0M177.5 1198.2V1207.2M173.0 1198.8H182.0M177.5 1194.3V1203.3M173.0 1195.2H182.0M177.5 1190.7V1199.7M173.0 1193.2H182.0M177.5 1188.7V1197.7M173.0 1188.7H182.0M177.5 1184.2V1193.2M173.0 1185.5H182.0M177.5 1181.0V1190.0M173.0 1181.4H182.0M177.5 1176.9V1185.9M173.0 1179.3H182.0M177.5 1174.8V1183.8M173.0 1176.4H182.0M177.5 1171.9V1180.9M173.0 1173.3H182.0M177.5 1168.8V1177.8M173.0 1168.5H182.0M177.5 1164.0V1173.0M173.0 1164.6H182.0M177.5 1160.1V1169.1M173.0 1162.7H182.0M177.5 1158.2V1167.2M173.0 1160.5H182.0M177.5 1156.0V1165.0M173.0 1155.4H182.0M177.5 1150.9V1159.9M173.0 1153.5H182.0M177.5 1149.0V1158.0M173.0 1150.9H182.0M177.5 1146.4V1155.4M173.0 1148.0H182.0M177.5 1143.5V1152.5M173.0 1142.7H182.0M177.5 1138.2V1147.2M173.0 1139.4H182.0M177.5 1134.9V1143.9M173.0 1136.7H182.0M177.5 1132.2V1141.2M173.0 1134.1H182.0M177.5 1129.6V1138.6M173.0 1130.5H182.0M177.5 1126.0V1135.0M173.0 1128.4H182.0M177.5 1123.9V1132.9M173.0 1122.8H182.0M177.5 1118.3V1127.3M173.0 1121.6H182.0M177.5 1117.1V1126.1M173.0 1117.5H182.0M177.5 1113.0V1122.0M173.0 1113.7H182.0M177.5 1109.2V1118.2M173.0 1110.5H182.0M177.5 1106.0V1115.0M173.0 1108.4H182.0M177.5 1103.9V1112.9M173.0 1105.8H182.0M177.5 1101.3V1110.3M173.0 1101.7H182.0M177.5 1097.2V1106.2M173.0 1099.9H182.0M177.5 1095.4V1104.4M173.0 1094.4H182.0M177.5 1089.9V1098.9M173.0 1092.7H182.0M177.5 1088.2V1097.2M173.0 1087.9H182.0M177.5 1083.4V1092.4M173.0 1086.6H182.0M177.5 1082.1V1091.1M173.0 1083.0H182.0M177.5 1078.5V1087.5M173.0 1080.2H182.0M177.5 1075.7V1084.7M173.0 1076.5H182.0M177.5 1072.0V1081.0M173.0 1074.0H182.0M177.5 1069.5V1078.5M173.0 1071.4H182.0M177.5 1066.9V1075.9M173.0 1065.9H182.0M177.5 1061.4V1070.4M173.0 1064.1H182.0M177.5 1059.6V1068.6M173.0 1061.0H182.0M177.5 1056.5V1065.5M173.0 1057.6H182.0M177.5 1053.1V1062.1M173.0 1053.8H182.0M177.5 1049.3V1058.3M173.0 1050.8H182.0M177.5 1046.3V1055.3M173.0 1046.9H182.0M177.5 1042.4V1051.4M213.0 1004.6H222.0M217.5 1000.1V1009.1M213.0 1274.0H222.0M217.5 1269.5V1278.5M213.0 1271.1H222.0M217.5 1266.6V1275.6M213.0 1264.7H222.0M217.5 1260.2V1269.2M213.0 1260.9H222.0M217.5 1256.4V1265.4M213.0 1260.0H222.0M217.5 1255.5V1264.5M213.0 1252.8H222.0M217.5 1248.3V1257.3M213.0 1248.4H222.0M217.5 1243.9V1252.9M213.0 1244.8H222.0M217.5 1240.3V1249.3M213.0 1243.3H222.0M217.5 1238.8V1247.8M213.0 1236.4H222.0M217.5 1231.9V1240.9M213.0 1233.1H222.0M217.5 1228.6V1237.6M213.0 1231.6H222.0M217.5 1227.1V1236.1M213.0 1227.5H222.0M217.5 1223.0V1232.0M213.0 1219.6H222.0M217.5 1215.1V1224.1M213.0 1216.7H222.0M217.5 1212.2V1221.2M213.0 1214.2H222.0M217.5 1209.7V1218.7M213.0 1210.8H222.0M217.5 1206.3V1215.3M213.0 1206.5H222.0M217.5 1202.0V1211.0M213.0 1202.0H222.0M217.5 1197.5V1206.5M213.0 1195.7H222.0M217.5 1191.2V1200.2M213.0 1193.4H222.0M217.5 1188.9V1197.9M213.0 1190.1H222.0M217.5 1185.6V1194.6M213.0 1182.9H222.0M217.5 1178.4V1187.4M213.0 1179.3H222.0M217.5 1174.8V1183.8M213.0 1177.7H222.0M217.5 1173.2V1182.2M213.0 1170.7H222.0M217.5 1166.2V1175.2M213.0 1167.8H222.0M217.5 1163.3V1172.3M213.0 1163.0H222.0M217.5 1158.5V1167.5M213.0 1159.3H222.0M217.5 1154.8V1163.8M213.0 1154.3H222.0M217.5 1149.8V1158.8M213.0 1150.6H222.0M217.5 1146.1V1155.1M213.0 1146.3H222.0M217.5 1141.8V1150.8M213.0 1144.9H222.0M217.5 1140.4V1149.4M213.0 1138.8H222.0M217.5 1134.3V1143.3M213.0 1135.3H222.0M217.5 1130.8V1139.8M213.0 1130.4H222.0M217.5 1125.9V1134.9M213.0 1127.5H222.0M217.5 1123.0V1132.0M213.0 1121.6H222.0M217.5 1117.1V1126.1M213.0 1118.9H222.0M217.5 1114.4V1123.4M213.0 1116.0H222.0M217.5 1111.5V1120.5M213.0 1112.0H222.0M217.5 1107.5V1116.5M213.0 1108.3H222.0M217.5 1103.8V1112.8M213.0 1102.7H222.0M217.5 1098.2V1107.2M213.0 1100.4H222.0M217.5 1095.9V1104.9M213.0 1094.7H222.0M217.5 1090.2V1099.2M213.0 1091.9H222.0M217.5 1087.4V1096.4M213.0 1086.4H222.0M217.5 1081.9V1090.9M213.0 1082.3H222.0M217.5 1077.8V1086.8M213.0 1078.0H222.0M217.5 1073.5V1082.5M213.0 1072.6H222.0M217.5 1068.1V1077.1M213.0 1072.0H222.0M217.5 1067.5V1076.5M213.0 1064.5H222.0M217.5 1060.0V1069.0M213.0 1061.9H222.0M217.5 1057.4V1066.4M213.0 1057.4H222.0M217.5 1052.9V1061.9M213.0 1052.9H222.0M217.5 1048.4V1057.4M213.0 1048.1H222.0M217.5 1043.6V1052.6M213.0 1045.9H222.0M217.5 1041.4V1050.4M213.0 1041.7H222.0M217.5 1037.2V1046.2M213.0 1035.3H222.0M217.5 1030.8V1039.8M213.0 1034.9H222.0M217.5 1030.4V1039.4M213.0 1028.5H222.0M217.5 1024.0V1033.0M213.0 1024.4H222.0M217.5 1019.9V1028.9M253.0 1206.4H262.0M257.5 1201.9V1210.9M253.0 1200.3H262.0M257.5 1195.8V1204.8M253.0 1196.1H262.0M257.5 1191.6V1200.6M253.0 1191.3H262.0M257.5 1186.8V1195.8M253.0 1189.8H262.0M257.5 1185.3V1194.3M253.0 1183.4H262.0M257.5 1178.9V1187.9M253.0 1181.3H262.0M257.5 1176.8V1185.8M253.0 1177.5H262.0M257.5 1173.0V1182.0M253.0 1172.0H262.0M257.5 1167.5V1176.5M253.0 1171.5H262.0M257.5 1167.0V1176.0M253.0 1165.0H262.0M257.5 1160.5V1169.5M253.0 1161.5H262.0M257.5 1157.0V1166.0M253.0 1158.7H262.0M257.5 1154.2V1163.2M253.0 1152.8H262.0M257.5 1148.3V1157.3M253.0 1150.8H262.0M257.5 1146.3V1155.3M253.0 1146.5H262.0M257.5 1142.0V1151.0M253.0 1142.5H262.0M257.5 1138.0V1147.0M253.0 1137.6H262.0M257.5 1133.1V1142.1M253.0 1135.9H262.0M257.5 1131.4V1140.4M253.0 1131.2H262.0M257.5 1126.7V1135.7M253.0 1127.4H262.0M257.5 1122.9V1131.9M253.0 1123.0H262.0M257.5 1118.5V1127.5M253.0 1118.0H262.0M257.5 1113.5V1122.5M253.0 1116.2H262.0M257.5 1111.7V1120.7M253.0 1110.3H262.0M257.5 1105.8V1114.8M253.0 1108.0H262.0M257.5 1103.5V1112.5M253.0 1103.8H262.0M257.5 1099.3V1108.3M253.0 1100.8H262.0M257.5 1096.3V1105.3M253.0 1096.0H262.0M257.5 1091.5V1100.5M253.0 1090.3H262.0M257.5 1085.8V1094.8M253.0 1087.7H262.0M257.5 1083.2V1092.2M253.0 1083.3H262.0M257.5 1078.8V1087.8M253.0 1081.2H262.0M257.5 1076.7V1085.7M253.0 1077.4H262.0M257.5 1072.9V1081.9M253.0 1073.5H262.0M257.5 1069.0V1078.0M253.0 1068.6H262.0M257.5 1064.1V1073.1M253.0 1064.5H262.0M257.5 1060.0V1069.0M253.0 1060.0H262.0M257.5 1055.5V1064.5M253.0 1059.0H262.0M257.5 1054.5V1063.5M253.0 1052.5H262.0M257.5 1048.0V1057.0M253.0 1048.0H262.0M257.5 1043.5V1052.5M253.0 1045.4H262.0M257.5 1040.9V1049.9M253.0 1043.5H262.0M257.5 1039.0V1048.0M253.0 1038.6H262.0M257.5 1034.1V1043.1M253.0 1035.9H262.0M257.5 1031.4V1040.4M253.0 1226.4H262.0M257.5 1221.9V1230.9M253.0 1237.8H262.0M257.5 1233.3V1242.3M253.0 1256.1H262.0M257.5 1251.6V1260.6M253.0 1260.7H262.0M257.5 1256.2V1265.2M253.0 1266.7H262.0M257.5 1262.2V1271.2M294.0 981.8H303.0M298.5 977.3V986.3M294.0 1210.9H303.0M298.5 1206.4V1215.4M294.0 1202.4H303.0M298.5 1197.9V1206.9M294.0 1199.0H303.0M298.5 1194.5V1203.5M294.0 1193.8H303.0M298.5 1189.3V1198.3M294.0 1188.2H303.0M298.5 1183.7V1192.7M294.0 1182.6H303.0M298.5 1178.1V1187.1M294.0 1179.1H303.0M298.5 1174.6V1183.6M294.0 1174.2H303.0M298.5 1169.7V1178.7M294.0 1169.2H303.0M298.5 1164.7V1173.7M294.0 1163.9H303.0M298.5 1159.4V1168.4M294.0 1159.4H303.0M298.5 1154.9V1163.9M294.0 1154.0H303.0M298.5 1149.5V1158.5M294.0 1151.4H303.0M298.5 1146.9V1155.9M294.0 1144.2H303.0M298.5 1139.7V1148.7M294.0 1140.3H303.0M298.5 1135.8V1144.8M294.0 1133.8H303.0M298.5 1129.3V1138.3M294.0 1132.1H303.0M298.5 1127.6V1136.6M294.0 1126.8H303.0M298.5 1122.3V1131.3M294.0 1122.5H303.0M298.5 1118.0V1127.0M294.0 1113.9H303.0M298.5 1109.4V1118.4M294.0 1108.3H303.0M298.5 1103.8V1112.8M294.0 1104.6H303.0M298.5 1100.1V1109.1M294.0 1101.1H303.0M298.5 1096.6V1105.6M294.0 1093.9H303.0M298.5 1089.4V1098.4M294.0 1089.1H303.0M298.5 1084.6V1093.6M294.0 1085.3H303.0M298.5 1080.8V1089.8M294.0 1081.8H303.0M298.5 1077.3V1086.3M294.0 1076.7H303.0M298.5 1072.2V1081.2M294.0 1071.1H303.0M298.5 1066.6V1075.6M294.0 1066.7H303.0M298.5 1062.2V1071.2M294.0 1061.2H303.0M298.5 1056.7V1065.7M294.0 1055.2H303.0M298.5 1050.7V1059.7M294.0 1048.8H303.0M298.5 1044.3V1053.3M294.0 1048.2H303.0M298.5 1043.7V1052.7M294.0 1040.7H303.0M298.5 1036.2V1045.2M294.0 1038.3H303.0M298.5 1033.8V1042.8M294.0 1033.0H303.0M298.5 1028.5V1037.5M294.0 1024.6H303.0M298.5 1020.1V1029.1M294.0 1020.8H303.0M298.5 1016.3V1025.3M294.0 1014.2H303.0M298.5 1009.7V1018.7M294.0 1011.6H303.0M298.5 1007.1V1016.1M294.0 1008.7H303.0M298.5 1004.2V1013.2M294.0 1222.5H303.0M298.5 1218.0V1227.0M294.0 1227.9H303.0M298.5 1223.4V1232.4M294.0 1243.9H303.0M298.5 1239.4V1248.4M294.0 1253.0H303.0M298.5 1248.5V1257.5M334.0 995.5H343.0M338.5 991.0V1000.0M334.0 1016.0H343.0M338.5 1011.5V1020.5M334.0 1020.6H343.0M338.5 1016.1V1025.1M334.0 1154.2H343.0M338.5 1149.7V1158.7M334.0 1150.1H343.0M338.5 1145.6V1154.6M334.0 1145.6H343.0M338.5 1141.1V1150.1M334.0 1142.0H343.0M338.5 1137.5V1146.5M334.0 1140.4H343.0M338.5 1135.9V1144.9M334.0 1137.2H343.0M338.5 1132.7V1141.7M334.0 1134.9H343.0M338.5 1130.4V1139.4M334.0 1129.7H343.0M338.5 1125.2V1134.2M334.0 1127.8H343.0M338.5 1123.3V1132.3M334.0 1124.6H343.0M338.5 1120.1V1129.1M334.0 1121.7H343.0M338.5 1117.2V1126.2M334.0 1118.3H343.0M338.5 1113.8V1122.8M334.0 1112.6H343.0M338.5 1108.1V1117.1M334.0 1111.2H343.0M338.5 1106.7V1115.7M334.0 1104.9H343.0M338.5 1100.4V1109.4M334.0 1104.5H343.0M338.5 1100.0V1109.0M334.0 1098.5H343.0M338.5 1094.0V1103.0M334.0 1097.6H343.0M338.5 1093.1V1102.1M334.0 1094.6H343.0M338.5 1090.1V1099.1M334.0 1088.9H343.0M338.5 1084.4V1093.4M334.0 1087.1H343.0M338.5 1082.6V1091.6M334.0 1082.1H343.0M338.5 1077.6V1086.6M334.0 1080.5H343.0M338.5 1076.0V1085.0M334.0 1077.6H343.0M338.5 1073.1V1082.1M334.0 1071.8H343.0M338.5 1067.3V1076.3M334.0 1068.6H343.0M338.5 1064.1V1073.1M334.0 1064.8H343.0M338.5 1060.3V1069.3M334.0 1061.8H343.0M338.5 1057.3V1066.3M334.0 1060.6H343.0M338.5 1056.1V1065.1M334.0 1055.4H343.0M338.5 1050.9V1059.9M334.0 1218.3H343.0M338.5 1213.8V1222.8M334.0 1213.9H343.0M338.5 1209.4V1218.4M334.0 1205.1H343.0M338.5 1200.6V1209.6M334.0 1203.2H343.0M338.5 1198.7V1207.7M334.0 1193.0H343.0M338.5 1188.5V1197.5M334.0 1188.6H343.0M338.5 1184.1V1193.1M334.0 1186.8H343.0M338.5 1182.3V1191.3M334.0 1180.9H343.0M338.5 1176.4V1185.4M334.0 1171.1H343.0M338.5 1166.6V1175.6M334.0 1164.2H343.0M338.5 1159.7V1168.7M334.0 1247.7H343.0M338.5 1243.2V1252.2M334.0 1250.7H343.0M338.5 1246.2V1255.2M334.0 1274.4H343.0M338.5 1269.9V1278.9M374.0 1045.0H383.0M378.5 1040.5V1049.5M374.0 1046.5H383.0M378.5 1042.0V1051.0M374.0 1067.1H383.0M378.5 1062.6V1071.6M374.0 1081.6H383.0M378.5 1077.1V1086.1M374.0 1093.0H383.0M378.5 1088.5V1097.5M374.0 1102.9H383.0M378.5 1098.4V1107.4M374.0 1139.5H383.0M378.5 1135.0V1144.0M374.0 1160.1H383.0M378.5 1155.6V1164.6M374.0 1165.4H383.0M378.5 1160.9V1169.9M374.0 1172.3H383.0M378.5 1167.8V1176.8M374.0 1189.8H383.0M378.5 1185.3V1194.3M374.0 1218.0H383.0M378.5 1213.5V1222.5M414.0 1009.2H423.0M418.5 1004.7V1013.7M414.0 1051.1H423.0M418.5 1046.6V1055.6M414.0 1054.1H423.0M418.5 1049.6V1058.6M414.0 1063.3H423.0M418.5 1058.8V1067.8M414.0 1077.0H423.0M418.5 1072.5V1081.5M414.0 1089.2H423.0M418.5 1084.7V1093.7M414.0 1098.3H423.0M418.5 1093.8V1102.8M414.0 1112.1H423.0M418.5 1107.6V1116.6M414.0 1118.2H423.0M418.5 1113.7V1122.7M414.0 1122.7H423.0M418.5 1118.2V1127.2M414.0 1154.0H423.0M418.5 1149.5V1158.5M414.0 1187.5H423.0M418.5 1183.0V1192.0M455.0 1001.6H464.0M459.5 997.1V1006.1M455.0 1025.2H464.0M459.5 1020.7V1029.7M455.0 1029.8H464.0M459.5 1025.3V1034.3M455.0 1033.6H464.0M459.5 1029.1V1038.1M455.0 1074.7H464.0M459.5 1070.2V1079.2M455.0 1080.8H464.0M459.5 1076.3V1085.3M455.0 1087.7H464.0M459.5 1083.2V1092.2M455.0 1109.8H464.0M459.5 1105.3V1114.3M455.0 1115.9H464.0M459.5 1111.4V1120.4M455.0 1135.7H464.0M459.5 1131.2V1140.2M455.0 1199.7H464.0M459.5 1195.2V1204.2M495.0 977.9H504.0M499.5 973.4V982.4M495.0 1025.2H504.0M499.5 1020.7V1029.7M495.0 1042.0H504.0M499.5 1037.5V1046.5M495.0 1059.5H504.0M499.5 1055.0V1064.0M535.0 1067.9H544.0M539.5 1063.4V1072.4M535.0 1228.6H544.0M539.5 1224.1V1233.1M576.0 962.7H585.0M580.5 958.2V967.2M576.0 1162.4H585.0M580.5 1157.9V1166.9M656.0 1138.0H665.0M660.5 1133.5V1142.5" stroke="#0000ff" stroke-width="1" fill="none"/><line x1="56.3" y1="1218.3" x2="666" y2="999.6" stroke="#0000ff" stroke-width="1.3"/><line x1="56.3" y1="1224.1" x2="664" y2="1042.3" stroke="#d95319" stroke-width="1.1"/><text x="452.8" y="913.5" font-size="15.7" fill="#000">Spearman correlation (<tspan font-family="Liberation Mono" fill-opacity="0.72">p-value</tspan>)</text><text x="452.8" y="931.6" font-size="15.7" fill="#0000ff">SSP245-CMIP6: 0.54 (<tspan font-family="Liberation Mono" fill-opacity="0.72">&lt;0.05</tspan>)</text><text x="452.8" y="948.8" font-size="15.7" fill="#ff0000">SSP585-CMIP6: 0.51 (<tspan font-family="Liberation Mono" fill-opacity="0.72">&lt;0.05</tspan>)</text>
</svg></body></html>
